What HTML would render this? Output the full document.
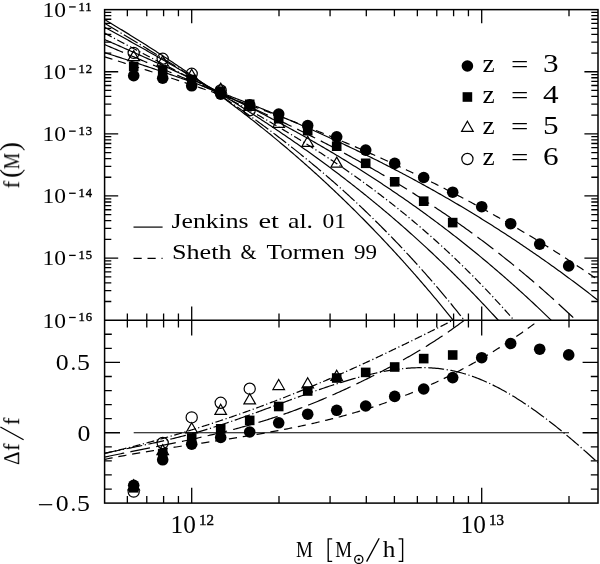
<!DOCTYPE html>
<html><head><meta charset="utf-8"><style>
html,body{margin:0;padding:0;background:#fff;}
svg{display:block;}
text{will-change:transform;}
</style></head><body>
<svg width="600" height="564" viewBox="0 0 600 564">
<rect width="600" height="564" fill="#fff"/>
<defs>
<clipPath id="ct"><rect x="104.6" y="9.63" width="493.40" height="310.57"/></clipPath>
<clipPath id="cb"><rect x="104.6" y="320.2" width="493.40" height="182.90"/></clipPath>
</defs>
<g clip-path="url(#ct)" fill="none" stroke="#000" stroke-width="1.2">
<path d="M104.60 19.59 L105.82 20.31 L107.04 21.04 L108.27 21.77 L109.49 22.50 L110.71 23.23 L111.93 23.97 L113.15 24.70 L114.38 25.44 L115.60 26.18 L116.82 26.91 L118.04 27.65 L119.26 28.40 L120.49 29.14 L121.71 29.88 L122.93 30.63 L124.15 31.38 L125.38 32.13 L126.60 32.88 L127.82 33.63 L129.04 34.38 L130.26 35.14 L131.49 35.89 L132.71 36.65 L133.93 37.41 L135.15 38.17 L136.37 38.94 L137.60 39.70 L138.82 40.47 L140.04 41.23 L141.26 42.00 L142.48 42.77 L143.71 43.55 L144.93 44.32 L146.15 45.10 L147.37 45.87 L148.59 46.65 L149.82 47.43 L151.04 48.22 L152.26 49.00 L153.48 49.79 L154.71 50.57 L155.93 51.36 L157.15 52.15 L158.37 52.95 L159.59 53.74 L160.82 54.54 L162.04 55.34 L163.26 56.14 L164.48 56.94 L165.70 57.74 L166.93 58.55 L168.15 59.36 L169.37 60.17 L170.59 60.98 L171.81 61.79 L173.04 62.60 L174.26 63.42 L175.48 64.24 L176.70 65.06 L177.92 65.88 L179.15 66.71 L180.37 67.53 L181.59 68.36 L182.81 69.19 L184.03 70.03 L185.26 70.86 L186.48 71.70 L187.70 72.54 L188.92 73.38 L190.15 74.22 L191.37 75.06 L192.59 75.91 L193.81 76.76 L195.03 77.61 L196.26 78.46 L197.48 79.32 L198.70 80.17 L199.92 81.03 L201.14 81.89 L202.37 82.76 L203.59 83.62 L204.81 84.49 L206.03 85.36 L207.25 86.23 L208.48 87.11 L209.70 87.98 L210.92 88.86 L212.14 89.74 L213.36 90.63 L214.59 91.51 L215.81 92.40 L217.03 93.29 L218.25 94.18 L219.47 95.07 L220.70 95.97 L221.92 96.87 L223.14 97.77 L224.36 98.67 L225.59 99.58 L226.81 100.49 L228.03 101.40 L229.25 102.31 L230.47 103.23 L231.70 104.15 L232.92 105.07 L234.14 105.99 L235.36 106.91 L236.58 107.84 L237.81 108.77 L239.03 109.70 L240.25 110.64 L241.47 111.57 L242.69 112.51 L243.92 113.46 L245.14 114.40 L246.36 115.35 L247.58 116.30 L248.80 117.25 L250.03 118.20 L251.25 119.16 L252.47 120.12 L253.69 121.08 L254.92 122.05 L256.14 123.02 L257.36 123.99 L258.58 124.96 L259.80 125.93 L261.03 126.91 L262.25 127.89 L263.47 128.88 L264.69 129.86 L265.91 130.85 L267.14 131.84 L268.36 132.84 L269.58 133.83 L270.80 134.83 L272.02 135.83 L273.25 136.84 L274.47 137.85 L275.69 138.86 L276.91 139.87 L278.13 140.89 L279.36 141.90 L280.58 142.93 L281.80 143.95 L283.02 144.98 L284.24 146.01 L285.47 147.04 L286.69 148.08 L287.91 149.11 L289.13 150.16 L290.36 151.20 L291.58 152.25 L292.80 153.30 L294.02 154.35 L295.24 155.41 L296.47 156.47 L297.69 157.53 L298.91 158.59 L300.13 159.66 L301.35 160.73 L302.58 161.80 L303.80 162.88 L305.02 163.96 L306.24 165.04 L307.46 166.13 L308.69 167.22 L309.91 168.31 L311.13 169.40 L312.35 170.50 L313.57 171.60 L314.80 172.71 L316.02 173.81 L317.24 174.92 L318.46 176.04 L319.68 177.15 L320.91 178.27 L322.13 179.40 L323.35 180.52 L324.57 181.65 L325.80 182.78 L327.02 183.92 L328.24 185.06 L329.46 186.20 L330.68 187.34 L331.91 188.49 L333.13 189.64 L334.35 190.80 L335.57 191.96 L336.79 193.12 L338.02 194.28 L339.24 195.45 L340.46 196.62 L341.68 197.80 L342.90 198.97 L344.13 200.15 L345.35 201.34 L346.57 202.53 L347.79 203.72 L349.01 204.91 L350.24 206.11 L351.46 207.31 L352.68 208.52 L353.90 209.72 L355.13 210.94 L356.35 212.15 L357.57 213.37 L358.79 214.59 L360.01 215.82 L361.24 217.05 L362.46 218.28 L363.68 219.51 L364.90 220.75 L366.12 222.00 L367.35 223.24 L368.57 224.49 L369.79 225.75 L371.01 227.00 L372.23 228.26 L373.46 229.53 L374.68 230.80 L375.90 232.07 L377.12 233.34 L378.34 234.62 L379.57 235.90 L380.79 237.19 L382.01 238.48 L383.23 239.77 L384.45 241.07 L385.68 242.37 L386.90 243.67 L388.12 244.98 L389.34 246.29 L390.57 247.61 L391.79 248.93 L393.01 250.25 L394.23 251.58 L395.45 252.91 L396.68 254.24 L397.90 255.58 L399.12 256.92 L400.34 258.27 L401.56 259.62 L402.79 260.97 L404.01 262.33 L405.23 263.69 L406.45 265.05 L407.67 266.42 L408.90 267.79 L410.12 269.17 L411.34 270.55 L412.56 271.94 L413.78 273.32 L415.01 274.72 L416.23 276.11 L417.45 277.51 L418.67 278.92 L419.89 280.32 L421.12 281.74 L422.34 283.15 L423.56 284.57 L424.78 286.00 L426.01 287.42 L427.23 288.86 L428.45 290.29 L429.67 291.73 L430.89 293.18 L432.12 294.62 L433.34 296.08 L434.56 297.53 L435.78 298.99 L437.00 300.46 L438.23 301.93 L439.45 303.40 L440.67 304.88 L441.89 306.36 L443.11 307.84 L444.34 309.33 L445.56 310.83 L446.78 312.33 L448.00 313.83 L449.22 315.33 L450.45 316.84 L451.67 318.36 L452.89 319.88 L454.11 321.40 L455.34 322.93 L456.56 324.46 L457.78 326.00 L459.00 327.54 L460.22 329.08 L461.45 330.63 L462.67 332.19 L463.89 333.74 L465.11 335.31 L466.33 336.87 L467.56 338.44 L468.78 340.02 L470.00 341.60"/>
<path d="M104.60 23.26 L105.86 24.00 L107.11 24.75 L108.37 25.50 L109.62 26.25 L110.88 26.99 L112.13 27.74 L113.39 28.49 L114.64 29.24 L115.90 29.99 L117.16 30.73 L118.41 31.48 L119.67 32.23 L120.92 32.98 L122.18 33.73 L123.43 34.49 L124.69 35.24 L125.94 35.99 L127.20 36.74 L128.45 37.49 L129.71 38.25 L130.97 39.00 L132.22 39.76 L133.48 40.51 L134.73 41.27 L135.99 42.03 L137.24 42.78 L138.50 43.54 L139.75 44.30 L141.01 45.06 L142.27 45.82 L143.52 46.58 L144.78 47.34 L146.03 48.10 L147.29 48.87 L148.54 49.63 L149.80 50.40 L151.05 51.16 L152.31 51.93 L153.57 52.70 L154.82 53.47 L156.08 54.24 L157.33 55.01 L158.59 55.78 L159.84 56.55 L161.10 57.32 L162.35 58.10 L163.61 58.87 L164.86 59.65 L166.12 60.43 L167.38 61.21 L168.63 61.99 L169.89 62.77 L171.14 63.55 L172.40 64.34 L173.65 65.12 L174.91 65.91 L176.16 66.70 L177.42 67.48 L178.68 68.27 L179.93 69.07 L181.19 69.86 L182.44 70.65 L183.70 71.45 L184.95 72.25 L186.21 73.04 L187.46 73.84 L188.72 74.65 L189.98 75.45 L191.23 76.25 L192.49 77.06 L193.74 77.87 L195.00 78.67 L196.25 79.48 L197.51 80.30 L198.76 81.11 L200.02 81.93 L201.27 82.74 L202.53 83.56 L203.79 84.38 L205.04 85.20 L206.30 86.03 L207.55 86.85 L208.81 87.68 L210.06 88.51 L211.32 89.34 L212.57 90.17 L213.83 91.01 L215.09 91.84 L216.34 92.68 L217.60 93.52 L218.85 94.36 L220.11 95.21 L221.36 96.05 L222.62 96.90 L223.87 97.75 L225.13 98.60 L226.39 99.46 L227.64 100.32 L228.90 101.17 L230.15 102.03 L231.41 102.90 L232.66 103.76 L233.92 104.63 L235.17 105.50 L236.43 106.37 L237.68 107.24 L238.94 108.12 L240.20 108.99 L241.45 109.87 L242.71 110.76 L243.96 111.64 L245.22 112.53 L246.47 113.42 L247.73 114.31 L248.98 115.20 L250.24 116.10 L251.50 117.00 L252.75 117.90 L254.01 118.80 L255.26 119.71 L256.52 120.62 L257.77 121.53 L259.03 122.44 L260.28 123.36 L261.54 124.28 L262.80 125.20 L264.05 126.12 L265.31 127.05 L266.56 127.98 L267.82 128.91 L269.07 129.85 L270.33 130.79 L271.58 131.73 L272.84 132.67 L274.09 133.62 L275.35 134.56 L276.61 135.52 L277.86 136.47 L279.12 137.43 L280.37 138.39 L281.63 139.35 L282.88 140.32 L284.14 141.28 L285.39 142.26 L286.65 143.23 L287.91 144.21 L289.16 145.19 L290.42 146.17 L291.67 147.16 L292.93 148.15 L294.18 149.14 L295.44 150.14 L296.69 151.14 L297.95 152.14 L299.21 153.14 L300.46 154.15 L301.72 155.16 L302.97 156.18 L304.23 157.20 L305.48 158.22 L306.74 159.24 L307.99 160.27 L309.25 161.30 L310.51 162.34 L311.76 163.38 L313.02 164.42 L314.27 165.46 L315.53 166.51 L316.78 167.56 L318.04 168.62 L319.29 169.68 L320.55 170.74 L321.80 171.80 L323.06 172.87 L324.32 173.95 L325.57 175.02 L326.83 176.10 L328.08 177.18 L329.34 178.27 L330.59 179.36 L331.85 180.46 L333.10 181.55 L334.36 182.66 L335.62 183.76 L336.87 184.87 L338.13 185.98 L339.38 187.10 L340.64 188.22 L341.89 189.35 L343.15 190.47 L344.40 191.61 L345.66 192.74 L346.92 193.88 L348.17 195.02 L349.43 196.17 L350.68 197.32 L351.94 198.48 L353.19 199.64 L354.45 200.80 L355.70 201.97 L356.96 203.14 L358.21 204.32 L359.47 205.50 L360.73 206.68 L361.98 207.87 L363.24 209.06 L364.49 210.26 L365.75 211.46 L367.00 212.66 L368.26 213.87 L369.51 215.08 L370.77 216.30 L372.03 217.52 L373.28 218.75 L374.54 219.98 L375.79 221.21 L377.05 222.45 L378.30 223.70 L379.56 224.95 L380.81 226.20 L382.07 227.45 L383.33 228.72 L384.58 229.98 L385.84 231.25 L387.09 232.53 L388.35 233.80 L389.60 235.09 L390.86 236.38 L392.11 237.67 L393.37 238.97 L394.62 240.27 L395.88 241.58 L397.14 242.89 L398.39 244.20 L399.65 245.52 L400.90 246.85 L402.16 248.18 L403.41 249.51 L404.67 250.85 L405.92 252.20 L407.18 253.55 L408.44 254.90 L409.69 256.26 L410.95 257.63 L412.20 258.99 L413.46 260.37 L414.71 261.75 L415.97 263.13 L417.22 264.52 L418.48 265.91 L419.74 267.31 L420.99 268.72 L422.25 270.12 L423.50 271.54 L424.76 272.96 L426.01 274.38 L427.27 275.81 L428.52 277.24 L429.78 278.68 L431.03 280.13 L432.29 281.58 L433.55 283.03 L434.80 284.49 L436.06 285.96 L437.31 287.43 L438.57 288.91 L439.82 290.39 L441.08 291.88 L442.33 293.37 L443.59 294.87 L444.85 296.37 L446.10 297.88 L447.36 299.39 L448.61 300.91 L449.87 302.43 L451.12 303.96 L452.38 305.50 L453.63 307.04 L454.89 308.59 L456.15 310.14 L457.40 311.70 L458.66 313.26 L459.91 314.83 L461.17 316.41 L462.42 317.99 L463.68 319.57 L464.93 321.17 L466.19 322.76 L467.44 324.37 L468.70 325.98 L469.96 327.59 L471.21 329.21 L472.47 330.84 L473.72 332.47 L474.98 334.11 L476.23 335.76 L477.49 337.41 L478.74 339.06 L480.00 340.72" stroke-dasharray="16 2.6 1.2 2.6"/>
<path d="M104.60 27.16 L105.97 27.92 L107.35 28.68 L108.72 29.44 L110.09 30.19 L111.46 30.95 L112.84 31.71 L114.21 32.47 L115.58 33.23 L116.95 33.99 L118.33 34.75 L119.70 35.52 L121.07 36.28 L122.44 37.04 L123.82 37.80 L125.19 38.57 L126.56 39.33 L127.93 40.10 L129.31 40.86 L130.68 41.63 L132.05 42.40 L133.42 43.16 L134.80 43.93 L136.17 44.70 L137.54 45.47 L138.91 46.24 L140.29 47.01 L141.66 47.78 L143.03 48.55 L144.40 49.33 L145.78 50.10 L147.15 50.87 L148.52 51.65 L149.89 52.43 L151.27 53.20 L152.64 53.98 L154.01 54.76 L155.39 55.54 L156.76 56.32 L158.13 57.10 L159.50 57.88 L160.88 58.67 L162.25 59.45 L163.62 60.24 L164.99 61.02 L166.37 61.81 L167.74 62.60 L169.11 63.39 L170.48 64.18 L171.86 64.97 L173.23 65.76 L174.60 66.55 L175.97 67.35 L177.35 68.15 L178.72 68.94 L180.09 69.74 L181.46 70.54 L182.84 71.34 L184.21 72.14 L185.58 72.95 L186.95 73.75 L188.33 74.56 L189.70 75.36 L191.07 76.17 L192.44 76.98 L193.82 77.79 L195.19 78.60 L196.56 79.42 L197.94 80.23 L199.31 81.05 L200.68 81.87 L202.05 82.69 L203.43 83.51 L204.80 84.33 L206.17 85.15 L207.54 85.98 L208.92 86.81 L210.29 87.63 L211.66 88.46 L213.03 89.29 L214.41 90.13 L215.78 90.96 L217.15 91.80 L218.52 92.64 L219.90 93.48 L221.27 94.32 L222.64 95.16 L224.01 96.00 L225.39 96.85 L226.76 97.70 L228.13 98.55 L229.50 99.40 L230.88 100.25 L232.25 101.11 L233.62 101.96 L234.99 102.82 L236.37 103.68 L237.74 104.54 L239.11 105.41 L240.48 106.27 L241.86 107.14 L243.23 108.01 L244.60 108.88 L245.98 109.76 L247.35 110.63 L248.72 111.51 L250.09 112.39 L251.47 113.27 L252.84 114.15 L254.21 115.04 L255.58 115.93 L256.96 116.82 L258.33 117.71 L259.70 118.60 L261.07 119.50 L262.45 120.40 L263.82 121.30 L265.19 122.20 L266.56 123.10 L267.94 124.01 L269.31 124.92 L270.68 125.83 L272.05 126.75 L273.43 127.66 L274.80 128.58 L276.17 129.50 L277.54 130.42 L278.92 131.35 L280.29 132.28 L281.66 133.21 L283.03 134.14 L284.41 135.07 L285.78 136.01 L287.15 136.95 L288.53 137.89 L289.90 138.83 L291.27 139.78 L292.64 140.73 L294.02 141.68 L295.39 142.64 L296.76 143.59 L298.13 144.55 L299.51 145.51 L300.88 146.48 L302.25 147.45 L303.62 148.42 L305.00 149.39 L306.37 150.36 L307.74 151.34 L309.11 152.32 L310.49 153.31 L311.86 154.29 L313.23 155.28 L314.60 156.27 L315.98 157.26 L317.35 158.26 L318.72 159.26 L320.09 160.26 L321.47 161.27 L322.84 162.28 L324.21 163.29 L325.58 164.30 L326.96 165.32 L328.33 166.34 L329.70 167.36 L331.07 168.39 L332.45 169.41 L333.82 170.45 L335.19 171.48 L336.57 172.52 L337.94 173.56 L339.31 174.60 L340.68 175.65 L342.06 176.70 L343.43 177.75 L344.80 178.81 L346.17 179.87 L347.55 180.93 L348.92 181.99 L350.29 183.06 L351.66 184.13 L353.04 185.21 L354.41 186.29 L355.78 187.37 L357.15 188.45 L358.53 189.54 L359.90 190.63 L361.27 191.72 L362.64 192.82 L364.02 193.92 L365.39 195.03 L366.76 196.13 L368.13 197.24 L369.51 198.36 L370.88 199.48 L372.25 200.60 L373.62 201.72 L375.00 202.85 L376.37 203.98 L377.74 205.12 L379.12 206.26 L380.49 207.40 L381.86 208.54 L383.23 209.69 L384.61 210.84 L385.98 212.00 L387.35 213.16 L388.72 214.32 L390.10 215.49 L391.47 216.66 L392.84 217.84 L394.21 219.01 L395.59 220.20 L396.96 221.38 L398.33 222.57 L399.70 223.76 L401.08 224.96 L402.45 226.16 L403.82 227.37 L405.19 228.57 L406.57 229.78 L407.94 231.00 L409.31 232.22 L410.68 233.44 L412.06 234.67 L413.43 235.90 L414.80 237.14 L416.17 238.38 L417.55 239.62 L418.92 240.87 L420.29 242.12 L421.66 243.37 L423.04 244.63 L424.41 245.89 L425.78 247.16 L427.16 248.43 L428.53 249.71 L429.90 250.99 L431.27 252.27 L432.65 253.56 L434.02 254.85 L435.39 256.14 L436.76 257.44 L438.14 258.75 L439.51 260.06 L440.88 261.37 L442.25 262.69 L443.63 264.01 L445.00 265.33 L446.37 266.66 L447.74 268.00 L449.12 269.33 L450.49 270.68 L451.86 272.02 L453.23 273.38 L454.61 274.73 L455.98 276.09 L457.35 277.46 L458.72 278.82 L460.10 280.20 L461.47 281.58 L462.84 282.96 L464.21 284.35 L465.59 285.74 L466.96 287.13 L468.33 288.53 L469.71 289.94 L471.08 291.35 L472.45 292.76 L473.82 294.18 L475.20 295.60 L476.57 297.03 L477.94 298.46 L479.31 299.90 L480.69 301.34 L482.06 302.79 L483.43 304.24 L484.80 305.70 L486.18 307.16 L487.55 308.62 L488.92 310.09 L490.29 311.57 L491.67 313.05 L493.04 314.53 L494.41 316.02 L495.78 317.52 L497.16 319.02 L498.53 320.52 L499.90 322.03 L501.27 323.55 L502.65 325.06 L504.02 326.59 L505.39 328.12 L506.76 329.65 L508.14 331.19 L509.51 332.74 L510.88 334.28 L512.25 335.84 L513.63 337.40 L515.00 338.96"/>
<path d="M104.60 33.08 L106.02 33.84 L107.45 34.61 L108.87 35.38 L110.29 36.14 L111.71 36.90 L113.14 37.67 L114.56 38.43 L115.98 39.19 L117.40 39.95 L118.83 40.71 L120.25 41.46 L121.67 42.22 L123.10 42.98 L124.52 43.73 L125.94 44.49 L127.36 45.24 L128.79 45.99 L130.21 46.74 L131.63 47.50 L133.05 48.25 L134.48 49.00 L135.90 49.75 L137.32 50.50 L138.75 51.24 L140.17 51.99 L141.59 52.74 L143.01 53.49 L144.44 54.23 L145.86 54.98 L147.28 55.72 L148.71 56.47 L150.13 57.22 L151.55 57.96 L152.97 58.71 L154.40 59.45 L155.82 60.19 L157.24 60.94 L158.66 61.68 L160.09 62.43 L161.51 63.17 L162.93 63.91 L164.36 64.66 L165.78 65.40 L167.20 66.15 L168.62 66.89 L170.05 67.63 L171.47 68.38 L172.89 69.12 L174.31 69.87 L175.74 70.61 L177.16 71.36 L178.58 72.10 L180.01 72.85 L181.43 73.60 L182.85 74.34 L184.27 75.09 L185.70 75.84 L187.12 76.58 L188.54 77.33 L189.96 78.08 L191.39 78.83 L192.81 79.58 L194.23 80.33 L195.66 81.08 L197.08 81.84 L198.50 82.59 L199.92 83.34 L201.35 84.10 L202.77 84.85 L204.19 85.61 L205.61 86.36 L207.04 87.12 L208.46 87.88 L209.88 88.64 L211.31 89.40 L212.73 90.16 L214.15 90.92 L215.57 91.68 L217.00 92.45 L218.42 93.21 L219.84 93.98 L221.26 94.75 L222.69 95.52 L224.11 96.29 L225.53 97.06 L226.96 97.83 L228.38 98.60 L229.80 99.38 L231.22 100.16 L232.65 100.93 L234.07 101.71 L235.49 102.49 L236.92 103.28 L238.34 104.06 L239.76 104.85 L241.18 105.63 L242.61 106.42 L244.03 107.21 L245.45 108.00 L246.87 108.80 L248.30 109.59 L249.72 110.39 L251.14 111.19 L252.57 111.99 L253.99 112.79 L255.41 113.60 L256.83 114.40 L258.26 115.21 L259.68 116.02 L261.10 116.83 L262.52 117.65 L263.95 118.46 L265.37 119.28 L266.79 120.10 L268.22 120.92 L269.64 121.75 L271.06 122.57 L272.48 123.40 L273.91 124.23 L275.33 125.07 L276.75 125.90 L278.17 126.74 L279.60 127.58 L281.02 128.42 L282.44 129.27 L283.87 130.12 L285.29 130.97 L286.71 131.82 L288.13 132.67 L289.56 133.53 L290.98 134.39 L292.40 135.25 L293.82 136.12 L295.25 136.99 L296.67 137.86 L298.09 138.73 L299.52 139.61 L300.94 140.49 L302.36 141.37 L303.78 142.25 L305.21 143.14 L306.63 144.03 L308.05 144.93 L309.47 145.82 L310.90 146.72 L312.32 147.62 L313.74 148.53 L315.17 149.44 L316.59 150.35 L318.01 151.26 L319.43 152.18 L320.86 153.10 L322.28 154.03 L323.70 154.96 L325.13 155.89 L326.55 156.82 L327.97 157.76 L329.39 158.70 L330.82 159.64 L332.24 160.59 L333.66 161.54 L335.08 162.50 L336.51 163.46 L337.93 164.42 L339.35 165.38 L340.78 166.35 L342.20 167.33 L343.62 168.30 L345.04 169.28 L346.47 170.27 L347.89 171.25 L349.31 172.24 L350.73 173.24 L352.16 174.24 L353.58 175.24 L355.00 176.25 L356.43 177.26 L357.85 178.27 L359.27 179.29 L360.69 180.31 L362.12 181.34 L363.54 182.37 L364.96 183.41 L366.38 184.45 L367.81 185.49 L369.23 186.54 L370.65 187.59 L372.08 188.64 L373.50 189.70 L374.92 190.77 L376.34 191.84 L377.77 192.91 L379.19 193.99 L380.61 195.07 L382.03 196.15 L383.46 197.24 L384.88 198.34 L386.30 199.44 L387.73 200.54 L389.15 201.65 L390.57 202.77 L391.99 203.89 L393.42 205.01 L394.84 206.14 L396.26 207.27 L397.68 208.40 L399.11 209.55 L400.53 210.69 L401.95 211.85 L403.38 213.00 L404.80 214.16 L406.22 215.33 L407.64 216.50 L409.07 217.68 L410.49 218.86 L411.91 220.04 L413.34 221.24 L414.76 222.43 L416.18 223.63 L417.60 224.84 L419.03 226.05 L420.45 227.27 L421.87 228.49 L423.29 229.72 L424.72 230.95 L426.14 232.19 L427.56 233.44 L428.99 234.69 L430.41 235.94 L431.83 237.20 L433.25 238.47 L434.68 239.74 L436.10 241.02 L437.52 242.30 L438.94 243.59 L440.37 244.88 L441.79 246.18 L443.21 247.48 L444.64 248.80 L446.06 250.11 L447.48 251.43 L448.90 252.76 L450.33 254.10 L451.75 255.44 L453.17 256.78 L454.59 258.13 L456.02 259.49 L457.44 260.86 L458.86 262.23 L460.29 263.60 L461.71 264.98 L463.13 266.37 L464.55 267.76 L465.98 269.17 L467.40 270.57 L468.82 271.98 L470.24 273.40 L471.67 274.83 L473.09 276.26 L474.51 277.70 L475.94 279.14 L477.36 280.59 L478.78 282.05 L480.20 283.51 L481.63 284.98 L483.05 286.46 L484.47 287.94 L485.89 289.43 L487.32 290.93 L488.74 292.43 L490.16 293.94 L491.59 295.46 L493.01 296.98 L494.43 298.51 L495.85 300.05 L497.28 301.59 L498.70 303.14 L500.12 304.70 L501.55 306.26 L502.97 307.83 L504.39 309.41 L505.81 310.99 L507.24 312.59 L508.66 314.18 L510.08 315.79 L511.50 317.40 L512.93 319.02 L514.35 320.65 L515.77 322.28 L517.20 323.93 L518.62 325.57 L520.04 327.23 L521.46 328.89 L522.89 330.56 L524.31 332.24 L525.73 333.93 L527.15 335.62 L528.58 337.32 L530.00 339.03" stroke-dasharray="8 2.6 1.2 2.6"/>
<path d="M104.60 39.51 L106.16 40.19 L107.71 40.88 L109.27 41.56 L110.83 42.25 L112.38 42.93 L113.94 43.62 L115.50 44.30 L117.05 44.99 L118.61 45.67 L120.17 46.36 L121.72 47.05 L123.28 47.74 L124.83 48.43 L126.39 49.12 L127.95 49.81 L129.50 50.50 L131.06 51.19 L132.62 51.88 L134.17 52.57 L135.73 53.27 L137.29 53.96 L138.84 54.66 L140.40 55.35 L141.96 56.05 L143.51 56.75 L145.07 57.45 L146.63 58.14 L148.18 58.84 L149.74 59.55 L151.30 60.25 L152.85 60.95 L154.41 61.65 L155.97 62.36 L157.52 63.06 L159.08 63.77 L160.63 64.48 L162.19 65.19 L163.75 65.90 L165.30 66.61 L166.86 67.32 L168.42 68.03 L169.97 68.74 L171.53 69.46 L173.09 70.18 L174.64 70.89 L176.20 71.61 L177.76 72.33 L179.31 73.05 L180.87 73.77 L182.43 74.50 L183.98 75.22 L185.54 75.95 L187.10 76.67 L188.65 77.40 L190.21 78.13 L191.77 78.86 L193.32 79.60 L194.88 80.33 L196.43 81.07 L197.99 81.80 L199.55 82.54 L201.10 83.28 L202.66 84.02 L204.22 84.76 L205.77 85.51 L207.33 86.25 L208.89 87.00 L210.44 87.75 L212.00 88.50 L213.56 89.25 L215.11 90.00 L216.67 90.76 L218.23 91.52 L219.78 92.27 L221.34 93.03 L222.90 93.80 L224.45 94.56 L226.01 95.32 L227.57 96.09 L229.12 96.86 L230.68 97.63 L232.23 98.40 L233.79 99.18 L235.35 99.95 L236.90 100.73 L238.46 101.51 L240.02 102.29 L241.57 103.08 L243.13 103.86 L244.69 104.65 L246.24 105.44 L247.80 106.23 L249.36 107.02 L250.91 107.82 L252.47 108.61 L254.03 109.41 L255.58 110.22 L257.14 111.02 L258.70 111.82 L260.25 112.63 L261.81 113.44 L263.37 114.25 L264.92 115.07 L266.48 115.88 L268.03 116.70 L269.59 117.52 L271.15 118.35 L272.70 119.17 L274.26 120.00 L275.82 120.83 L277.37 121.66 L278.93 122.50 L280.49 123.33 L282.04 124.17 L283.60 125.01 L285.16 125.86 L286.71 126.70 L288.27 127.55 L289.83 128.41 L291.38 129.26 L292.94 130.12 L294.50 130.97 L296.05 131.84 L297.61 132.70 L299.17 133.57 L300.72 134.43 L302.28 135.31 L303.83 136.18 L305.39 137.06 L306.95 137.94 L308.50 138.82 L310.06 139.70 L311.62 140.59 L313.17 141.48 L314.73 142.37 L316.29 143.27 L317.84 144.17 L319.40 145.07 L320.96 145.97 L322.51 146.88 L324.07 147.79 L325.63 148.70 L327.18 149.62 L328.74 150.54 L330.30 151.46 L331.85 152.38 L333.41 153.31 L334.97 154.24 L336.52 155.17 L338.08 156.11 L339.63 157.05 L341.19 157.99 L342.75 158.93 L344.30 159.88 L345.86 160.83 L347.42 161.79 L348.97 162.74 L350.53 163.71 L352.09 164.67 L353.64 165.64 L355.20 166.61 L356.76 167.58 L358.31 168.56 L359.87 169.54 L361.43 170.52 L362.98 171.51 L364.54 172.49 L366.10 173.49 L367.65 174.48 L369.21 175.48 L370.77 176.49 L372.32 177.49 L373.88 178.50 L375.43 179.52 L376.99 180.53 L378.55 181.55 L380.10 182.58 L381.66 183.60 L383.22 184.63 L384.77 185.67 L386.33 186.70 L387.89 187.75 L389.44 188.79 L391.00 189.84 L392.56 190.89 L394.11 191.95 L395.67 193.01 L397.23 194.07 L398.78 195.13 L400.34 196.20 L401.90 197.28 L403.45 198.36 L405.01 199.44 L406.57 200.52 L408.12 201.61 L409.68 202.70 L411.23 203.80 L412.79 204.90 L414.35 206.01 L415.90 207.11 L417.46 208.23 L419.02 209.34 L420.57 210.46 L422.13 211.59 L423.69 212.71 L425.24 213.84 L426.80 214.98 L428.36 216.12 L429.91 217.26 L431.47 218.41 L433.03 219.56 L434.58 220.72 L436.14 221.88 L437.70 223.04 L439.25 224.21 L440.81 225.38 L442.37 226.56 L443.92 227.74 L445.48 228.93 L447.03 230.12 L448.59 231.31 L450.15 232.51 L451.70 233.71 L453.26 234.91 L454.82 236.13 L456.37 237.34 L457.93 238.56 L459.49 239.78 L461.04 241.01 L462.60 242.24 L464.16 243.48 L465.71 244.72 L467.27 245.97 L468.83 247.22 L470.38 248.47 L471.94 249.73 L473.50 250.99 L475.05 252.26 L476.61 253.54 L478.17 254.81 L479.72 256.09 L481.28 257.38 L482.83 258.67 L484.39 259.97 L485.95 261.27 L487.50 262.57 L489.06 263.88 L490.62 265.20 L492.17 266.52 L493.73 267.84 L495.29 269.17 L496.84 270.50 L498.40 271.84 L499.96 273.19 L501.51 274.53 L503.07 275.89 L504.63 277.24 L506.18 278.61 L507.74 279.97 L509.30 281.35 L510.85 282.72 L512.41 284.11 L513.97 285.49 L515.52 286.89 L517.08 288.28 L518.63 289.69 L520.19 291.09 L521.75 292.51 L523.30 293.92 L524.86 295.35 L526.42 296.77 L527.97 298.21 L529.53 299.64 L531.09 301.09 L532.64 302.54 L534.20 303.99 L535.76 305.45 L537.31 306.91 L538.87 308.38 L540.43 309.86 L541.98 311.34 L543.54 312.82 L545.10 314.31 L546.65 315.81 L548.21 317.31 L549.77 318.81 L551.32 320.33 L552.88 321.84 L554.43 323.37 L555.99 324.90 L557.55 326.43 L559.10 327.97 L560.66 329.51 L562.22 331.06 L563.77 332.62 L565.33 334.18 L566.89 335.75 L568.44 337.32 L570.00 338.90"/>
<path d="M104.60 44.58 L106.22 45.27 L107.85 45.96 L109.47 46.64 L111.09 47.33 L112.72 48.02 L114.34 48.71 L115.96 49.39 L117.59 50.08 L119.21 50.76 L120.83 51.45 L122.46 52.14 L124.08 52.82 L125.70 53.50 L127.33 54.19 L128.95 54.87 L130.57 55.56 L132.20 56.24 L133.82 56.92 L135.44 57.61 L137.07 58.29 L138.69 58.97 L140.32 59.66 L141.94 60.34 L143.56 61.02 L145.19 61.70 L146.81 62.39 L148.43 63.07 L150.06 63.75 L151.68 64.44 L153.30 65.12 L154.93 65.80 L156.55 66.49 L158.17 67.17 L159.80 67.85 L161.42 68.54 L163.04 69.22 L164.67 69.91 L166.29 70.59 L167.91 71.28 L169.54 71.96 L171.16 72.65 L172.78 73.34 L174.41 74.02 L176.03 74.71 L177.65 75.40 L179.28 76.09 L180.90 76.78 L182.52 77.47 L184.15 78.16 L185.77 78.85 L187.39 79.54 L189.02 80.23 L190.64 80.93 L192.26 81.62 L193.89 82.31 L195.51 83.01 L197.13 83.71 L198.76 84.40 L200.38 85.10 L202.00 85.80 L203.63 86.50 L205.25 87.20 L206.87 87.90 L208.50 88.60 L210.12 89.30 L211.75 90.01 L213.37 90.71 L214.99 91.42 L216.62 92.13 L218.24 92.84 L219.86 93.55 L221.49 94.26 L223.11 94.97 L224.73 95.68 L226.36 96.40 L227.98 97.11 L229.60 97.83 L231.23 98.55 L232.85 99.27 L234.47 99.99 L236.10 100.71 L237.72 101.43 L239.34 102.16 L240.97 102.88 L242.59 103.61 L244.21 104.34 L245.84 105.07 L247.46 105.80 L249.08 106.54 L250.71 107.27 L252.33 108.01 L253.95 108.75 L255.58 109.49 L257.20 110.23 L258.82 110.98 L260.45 111.72 L262.07 112.47 L263.69 113.22 L265.32 113.97 L266.94 114.72 L268.56 115.48 L270.19 116.24 L271.81 116.99 L273.43 117.75 L275.06 118.52 L276.68 119.28 L278.31 120.05 L279.93 120.82 L281.55 121.59 L283.18 122.36 L284.80 123.14 L286.42 123.91 L288.05 124.69 L289.67 125.47 L291.29 126.26 L292.92 127.04 L294.54 127.83 L296.16 128.62 L297.79 129.41 L299.41 130.21 L301.03 131.01 L302.66 131.81 L304.28 132.61 L305.90 133.41 L307.53 134.22 L309.15 135.03 L310.77 135.84 L312.40 136.65 L314.02 137.47 L315.64 138.29 L317.27 139.11 L318.89 139.94 L320.51 140.77 L322.14 141.60 L323.76 142.43 L325.38 143.26 L327.01 144.10 L328.63 144.94 L330.25 145.79 L331.88 146.63 L333.50 147.48 L335.12 148.34 L336.75 149.19 L338.37 150.05 L339.99 150.91 L341.62 151.78 L343.24 152.64 L344.86 153.51 L346.49 154.39 L348.11 155.26 L349.74 156.14 L351.36 157.02 L352.98 157.91 L354.61 158.80 L356.23 159.69 L357.85 160.59 L359.48 161.48 L361.10 162.39 L362.72 163.29 L364.35 164.20 L365.97 165.11 L367.59 166.03 L369.22 166.94 L370.84 167.87 L372.46 168.79 L374.09 169.72 L375.71 170.65 L377.33 171.59 L378.96 172.53 L380.58 173.47 L382.20 174.42 L383.83 175.37 L385.45 176.32 L387.07 177.28 L388.70 178.24 L390.32 179.20 L391.94 180.17 L393.57 181.14 L395.19 182.12 L396.81 183.10 L398.44 184.08 L400.06 185.07 L401.68 186.06 L403.31 187.05 L404.93 188.05 L406.55 189.06 L408.18 190.06 L409.80 191.07 L411.42 192.09 L413.05 193.11 L414.67 194.13 L416.29 195.16 L417.92 196.19 L419.54 197.22 L421.17 198.26 L422.79 199.31 L424.41 200.36 L426.04 201.41 L427.66 202.46 L429.28 203.53 L430.91 204.59 L432.53 205.66 L434.15 206.73 L435.78 207.81 L437.40 208.89 L439.02 209.98 L440.65 211.07 L442.27 212.17 L443.89 213.27 L445.52 214.37 L447.14 215.48 L448.76 216.60 L450.39 217.72 L452.01 218.84 L453.63 219.97 L455.26 221.10 L456.88 222.24 L458.50 223.38 L460.13 224.53 L461.75 225.68 L463.37 226.84 L465.00 228.00 L466.62 229.16 L468.24 230.34 L469.87 231.51 L471.49 232.69 L473.11 233.88 L474.74 235.07 L476.36 236.26 L477.98 237.47 L479.61 238.67 L481.23 239.88 L482.85 241.10 L484.48 242.32 L486.10 243.55 L487.73 244.78 L489.35 246.01 L490.97 247.26 L492.60 248.50 L494.22 249.76 L495.84 251.01 L497.47 252.28 L499.09 253.55 L500.71 254.82 L502.34 256.10 L503.96 257.38 L505.58 258.67 L507.21 259.97 L508.83 261.27 L510.45 262.58 L512.08 263.89 L513.70 265.21 L515.32 266.53 L516.95 267.86 L518.57 269.19 L520.19 270.53 L521.82 271.88 L523.44 273.23 L525.06 274.59 L526.69 275.95 L528.31 277.32 L529.93 278.69 L531.56 280.07 L533.18 281.46 L534.80 282.85 L536.43 284.25 L538.05 285.65 L539.67 287.06 L541.30 288.48 L542.92 289.90 L544.54 291.33 L546.17 292.76 L547.79 294.20 L549.41 295.65 L551.04 297.10 L552.66 298.56 L554.28 300.03 L555.91 301.50 L557.53 302.97 L559.16 304.46 L560.78 305.95 L562.40 307.44 L564.03 308.94 L565.65 310.45 L567.27 311.97 L568.90 313.49 L570.52 315.02 L572.14 316.55 L573.77 318.09 L575.39 319.64 L577.01 321.19 L578.64 322.75 L580.26 324.32 L581.88 325.89 L583.51 327.47 L585.13 329.06 L586.75 330.65 L588.38 332.25 L590.00 333.86" stroke-dasharray="20 6.3"/>
<path d="M104.60 52.58 L106.25 53.11 L107.90 53.64 L109.55 54.18 L111.20 54.71 L112.85 55.24 L114.50 55.78 L116.15 56.31 L117.80 56.85 L119.45 57.38 L121.10 57.92 L122.75 58.46 L124.40 59.00 L126.05 59.54 L127.70 60.08 L129.35 60.63 L131.00 61.17 L132.65 61.72 L134.30 62.26 L135.95 62.81 L137.60 63.36 L139.25 63.91 L140.90 64.46 L142.55 65.01 L144.20 65.56 L145.85 66.12 L147.50 66.67 L149.15 67.23 L150.80 67.79 L152.45 68.35 L154.11 68.91 L155.76 69.47 L157.41 70.03 L159.06 70.60 L160.71 71.16 L162.36 71.73 L164.01 72.29 L165.66 72.86 L167.31 73.43 L168.96 74.01 L170.61 74.58 L172.26 75.15 L173.91 75.73 L175.56 76.30 L177.21 76.88 L178.86 77.46 L180.51 78.04 L182.16 78.63 L183.81 79.21 L185.46 79.80 L187.11 80.38 L188.76 80.97 L190.41 81.56 L192.06 82.15 L193.71 82.74 L195.36 83.34 L197.01 83.93 L198.66 84.53 L200.31 85.13 L201.96 85.73 L203.61 86.33 L205.26 86.93 L206.91 87.54 L208.56 88.14 L210.21 88.75 L211.86 89.36 L213.51 89.97 L215.16 90.59 L216.81 91.20 L218.46 91.82 L220.11 92.43 L221.76 93.05 L223.41 93.67 L225.06 94.30 L226.71 94.92 L228.36 95.55 L230.01 96.18 L231.66 96.81 L233.31 97.44 L234.96 98.07 L236.61 98.71 L238.26 99.34 L239.91 99.98 L241.56 100.62 L243.21 101.26 L244.86 101.91 L246.51 102.55 L248.16 103.20 L249.81 103.85 L251.46 104.50 L253.12 105.15 L254.77 105.81 L256.42 106.47 L258.07 107.13 L259.72 107.79 L261.37 108.45 L263.02 109.11 L264.67 109.78 L266.32 110.45 L267.97 111.12 L269.62 111.79 L271.27 112.47 L272.92 113.14 L274.57 113.82 L276.22 114.50 L277.87 115.19 L279.52 115.87 L281.17 116.56 L282.82 117.25 L284.47 117.94 L286.12 118.63 L287.77 119.33 L289.42 120.02 L291.07 120.72 L292.72 121.43 L294.37 122.13 L296.02 122.84 L297.67 123.54 L299.32 124.25 L300.97 124.97 L302.62 125.68 L304.27 126.40 L305.92 127.12 L307.57 127.84 L309.22 128.56 L310.87 129.29 L312.52 130.02 L314.17 130.75 L315.82 131.48 L317.47 132.22 L319.12 132.96 L320.77 133.70 L322.42 134.44 L324.07 135.18 L325.72 135.93 L327.37 136.68 L329.02 137.43 L330.67 138.19 L332.32 138.94 L333.97 139.70 L335.62 140.46 L337.27 141.23 L338.92 141.99 L340.57 142.76 L342.22 143.54 L343.87 144.31 L345.52 145.09 L347.17 145.87 L348.82 146.65 L350.47 147.43 L352.13 148.22 L353.78 149.01 L355.43 149.80 L357.08 150.59 L358.73 151.39 L360.38 152.19 L362.03 152.99 L363.68 153.80 L365.33 154.60 L366.98 155.41 L368.63 156.23 L370.28 157.04 L371.93 157.86 L373.58 158.68 L375.23 159.51 L376.88 160.33 L378.53 161.16 L380.18 161.99 L381.83 162.83 L383.48 163.67 L385.13 164.51 L386.78 165.35 L388.43 166.19 L390.08 167.04 L391.73 167.89 L393.38 168.75 L395.03 169.61 L396.68 170.47 L398.33 171.33 L399.98 172.19 L401.63 173.06 L403.28 173.93 L404.93 174.81 L406.58 175.69 L408.23 176.57 L409.88 177.45 L411.53 178.33 L413.18 179.22 L414.83 180.12 L416.48 181.01 L418.13 181.91 L419.78 182.81 L421.43 183.71 L423.08 184.62 L424.73 185.53 L426.38 186.44 L428.03 187.36 L429.68 188.28 L431.33 189.20 L432.98 190.13 L434.63 191.06 L436.28 191.99 L437.93 192.92 L439.58 193.86 L441.23 194.80 L442.88 195.75 L444.53 196.70 L446.18 197.65 L447.83 198.60 L449.48 199.56 L451.14 200.52 L452.79 201.48 L454.44 202.45 L456.09 203.42 L457.74 204.39 L459.39 205.37 L461.04 206.35 L462.69 207.33 L464.34 208.32 L465.99 209.31 L467.64 210.30 L469.29 211.30 L470.94 212.30 L472.59 213.30 L474.24 214.31 L475.89 215.32 L477.54 216.33 L479.19 217.35 L480.84 218.37 L482.49 219.40 L484.14 220.42 L485.79 221.45 L487.44 222.49 L489.09 223.53 L490.74 224.57 L492.39 225.61 L494.04 226.66 L495.69 227.71 L497.34 228.77 L498.99 229.83 L500.64 230.89 L502.29 231.96 L503.94 233.03 L505.59 234.10 L507.24 235.18 L508.89 236.26 L510.54 237.34 L512.19 238.43 L513.84 239.52 L515.49 240.61 L517.14 241.71 L518.79 242.82 L520.44 243.92 L522.09 245.03 L523.74 246.14 L525.39 247.26 L527.04 248.38 L528.69 249.51 L530.34 250.64 L531.99 251.77 L533.64 252.91 L535.29 254.05 L536.94 255.19 L538.59 256.34 L540.24 257.49 L541.89 258.64 L543.54 259.80 L545.19 260.97 L546.84 262.13 L548.49 263.30 L550.15 264.48 L551.80 265.66 L553.45 266.84 L555.10 268.02 L556.75 269.21 L558.40 270.41 L560.05 271.61 L561.70 272.81 L563.35 274.02 L565.00 275.23 L566.65 276.44 L568.30 277.66 L569.95 278.88 L571.60 280.11 L573.25 281.34 L574.90 282.57 L576.55 283.81 L578.20 285.05 L579.85 286.30 L581.50 287.55 L583.15 288.81 L584.80 290.06 L586.45 291.33 L588.10 292.60 L589.75 293.87 L591.40 295.14 L593.05 296.42 L594.70 297.71 L596.35 299.00 L598.00 300.29"/>
<path d="M104.60 56.86 L106.25 57.37 L107.90 57.88 L109.55 58.40 L111.20 58.91 L112.85 59.43 L114.50 59.95 L116.15 60.46 L117.80 60.98 L119.45 61.50 L121.10 62.02 L122.75 62.54 L124.40 63.06 L126.05 63.58 L127.70 64.10 L129.35 64.62 L131.00 65.14 L132.65 65.67 L134.30 66.19 L135.95 66.72 L137.60 67.24 L139.25 67.77 L140.90 68.30 L142.55 68.82 L144.20 69.35 L145.85 69.88 L147.50 70.41 L149.15 70.94 L150.80 71.47 L152.45 72.00 L154.11 72.54 L155.76 73.07 L157.41 73.61 L159.06 74.14 L160.71 74.68 L162.36 75.22 L164.01 75.75 L165.66 76.29 L167.31 76.83 L168.96 77.37 L170.61 77.92 L172.26 78.46 L173.91 79.00 L175.56 79.55 L177.21 80.09 L178.86 80.64 L180.51 81.19 L182.16 81.73 L183.81 82.28 L185.46 82.83 L187.11 83.39 L188.76 83.94 L190.41 84.49 L192.06 85.05 L193.71 85.60 L195.36 86.16 L197.01 86.72 L198.66 87.28 L200.31 87.84 L201.96 88.40 L203.61 88.96 L205.26 89.52 L206.91 90.09 L208.56 90.65 L210.21 91.22 L211.86 91.79 L213.51 92.36 L215.16 92.93 L216.81 93.50 L218.46 94.07 L220.11 94.64 L221.76 95.22 L223.41 95.80 L225.06 96.37 L226.71 96.95 L228.36 97.53 L230.01 98.11 L231.66 98.70 L233.31 99.28 L234.96 99.87 L236.61 100.45 L238.26 101.04 L239.91 101.63 L241.56 102.22 L243.21 102.81 L244.86 103.41 L246.51 104.00 L248.16 104.60 L249.81 105.20 L251.46 105.80 L253.12 106.40 L254.77 107.00 L256.42 107.60 L258.07 108.21 L259.72 108.81 L261.37 109.42 L263.02 110.03 L264.67 110.64 L266.32 111.26 L267.97 111.87 L269.62 112.48 L271.27 113.10 L272.92 113.72 L274.57 114.34 L276.22 114.96 L277.87 115.59 L279.52 116.21 L281.17 116.84 L282.82 117.47 L284.47 118.10 L286.12 118.73 L287.77 119.36 L289.42 120.00 L291.07 120.63 L292.72 121.27 L294.37 121.91 L296.02 122.55 L297.67 123.19 L299.32 123.84 L300.97 124.49 L302.62 125.13 L304.27 125.78 L305.92 126.44 L307.57 127.09 L309.22 127.75 L310.87 128.40 L312.52 129.06 L314.17 129.72 L315.82 130.39 L317.47 131.05 L319.12 131.72 L320.77 132.39 L322.42 133.06 L324.07 133.73 L325.72 134.40 L327.37 135.08 L329.02 135.76 L330.67 136.43 L332.32 137.12 L333.97 137.80 L335.62 138.49 L337.27 139.17 L338.92 139.86 L340.57 140.55 L342.22 141.25 L343.87 141.94 L345.52 142.64 L347.17 143.34 L348.82 144.04 L350.47 144.74 L352.13 145.45 L353.78 146.16 L355.43 146.87 L357.08 147.58 L358.73 148.29 L360.38 149.01 L362.03 149.73 L363.68 150.45 L365.33 151.17 L366.98 151.89 L368.63 152.62 L370.28 153.35 L371.93 154.08 L373.58 154.81 L375.23 155.55 L376.88 156.29 L378.53 157.03 L380.18 157.77 L381.83 158.51 L383.48 159.26 L385.13 160.01 L386.78 160.76 L388.43 161.51 L390.08 162.27 L391.73 163.03 L393.38 163.79 L395.03 164.55 L396.68 165.31 L398.33 166.08 L399.98 166.85 L401.63 167.62 L403.28 168.40 L404.93 169.17 L406.58 169.95 L408.23 170.74 L409.88 171.52 L411.53 172.31 L413.18 173.09 L414.83 173.89 L416.48 174.68 L418.13 175.48 L419.78 176.28 L421.43 177.08 L423.08 177.88 L424.73 178.69 L426.38 179.50 L428.03 180.31 L429.68 181.12 L431.33 181.94 L432.98 182.76 L434.63 183.58 L436.28 184.40 L437.93 185.23 L439.58 186.06 L441.23 186.89 L442.88 187.73 L444.53 188.57 L446.18 189.41 L447.83 190.25 L449.48 191.09 L451.14 191.94 L452.79 192.79 L454.44 193.65 L456.09 194.50 L457.74 195.36 L459.39 196.23 L461.04 197.09 L462.69 197.96 L464.34 198.83 L465.99 199.70 L467.64 200.58 L469.29 201.46 L470.94 202.34 L472.59 203.23 L474.24 204.11 L475.89 205.01 L477.54 205.90 L479.19 206.80 L480.84 207.70 L482.49 208.60 L484.14 209.50 L485.79 210.41 L487.44 211.32 L489.09 212.24 L490.74 213.16 L492.39 214.08 L494.04 215.00 L495.69 215.93 L497.34 216.86 L498.99 217.79 L500.64 218.72 L502.29 219.66 L503.94 220.60 L505.59 221.55 L507.24 222.50 L508.89 223.45 L510.54 224.40 L512.19 225.36 L513.84 226.32 L515.49 227.29 L517.14 228.25 L518.79 229.22 L520.44 230.20 L522.09 231.17 L523.74 232.15 L525.39 233.14 L527.04 234.12 L528.69 235.11 L530.34 236.11 L531.99 237.10 L533.64 238.10 L535.29 239.11 L536.94 240.11 L538.59 241.12 L540.24 242.14 L541.89 243.15 L543.54 244.17 L545.19 245.20 L546.84 246.22 L548.49 247.25 L550.15 248.29 L551.80 249.32 L553.45 250.36 L555.10 251.41 L556.75 252.46 L558.40 253.51 L560.05 254.56 L561.70 255.62 L563.35 256.68 L565.00 257.75 L566.65 258.82 L568.30 259.89 L569.95 260.96 L571.60 262.04 L573.25 263.13 L574.90 264.21 L576.55 265.30 L578.20 266.40 L579.85 267.49 L581.50 268.60 L583.15 269.70 L584.80 270.81 L586.45 271.92 L588.10 273.04 L589.75 274.16 L591.40 275.28 L593.05 276.41 L594.70 277.54 L596.35 278.67 L598.00 279.81" stroke-dasharray="8.2 5.8"/>
</g>
<g clip-path="url(#cb)" fill="none" stroke="#000" stroke-width="1.2">
<path d="M133.7 432.75H569"/>
<path d="M104.60 459.34 L106.12 459.04 L107.65 458.74 L109.17 458.43 L110.69 458.14 L112.22 457.84 L113.74 457.55 L115.26 457.25 L116.78 456.97 L118.31 456.68 L119.83 456.39 L121.35 456.11 L122.88 455.83 L124.40 455.55 L125.92 455.27 L127.45 455.00 L128.97 454.73 L130.49 454.45 L132.02 454.19 L133.54 453.92 L135.06 453.65 L136.58 453.39 L138.11 453.12 L139.63 452.86 L141.15 452.60 L142.68 452.35 L144.20 452.09 L145.72 451.83 L147.25 451.58 L148.77 451.33 L150.29 451.08 L151.82 450.83 L153.34 450.58 L154.86 450.33 L156.38 450.09 L157.91 449.84 L159.43 449.60 L160.95 449.36 L162.48 449.11 L164.00 448.87 L165.52 448.63 L167.05 448.39 L168.57 448.16 L170.09 447.92 L171.62 447.68 L173.14 447.45 L174.66 447.21 L176.18 446.97 L177.71 446.74 L179.23 446.51 L180.75 446.27 L182.28 446.04 L183.80 445.81 L185.32 445.58 L186.85 445.35 L188.37 445.11 L189.89 444.88 L191.42 444.65 L192.94 444.42 L194.46 444.19 L195.98 443.96 L197.51 443.73 L199.03 443.50 L200.55 443.27 L202.08 443.04 L203.60 442.81 L205.12 442.58 L206.65 442.35 L208.17 442.12 L209.69 441.89 L211.22 441.66 L212.74 441.42 L214.26 441.19 L215.78 440.96 L217.31 440.73 L218.83 440.49 L220.35 440.26 L221.88 440.02 L223.40 439.79 L224.92 439.55 L226.45 439.32 L227.97 439.08 L229.49 438.84 L231.02 438.60 L232.54 438.36 L234.06 438.12 L235.58 437.88 L237.11 437.63 L238.63 437.39 L240.15 437.15 L241.68 436.90 L243.20 436.65 L244.72 436.40 L246.25 436.15 L247.77 435.90 L249.29 435.65 L250.82 435.40 L252.34 435.14 L253.86 434.88 L255.38 434.63 L256.91 434.37 L258.43 434.11 L259.95 433.84 L261.48 433.58 L263.00 433.31 L264.52 433.05 L266.05 432.78 L267.57 432.50 L269.09 432.23 L270.62 431.96 L272.14 431.68 L273.66 431.40 L275.18 431.12 L276.71 430.84 L278.23 430.55 L279.75 430.26 L281.28 429.97 L282.80 429.68 L284.32 429.39 L285.85 429.09 L287.37 428.79 L288.89 428.49 L290.42 428.19 L291.94 427.88 L293.46 427.57 L294.98 427.26 L296.51 426.95 L298.03 426.63 L299.55 426.31 L301.08 425.99 L302.60 425.67 L304.12 425.34 L305.65 425.01 L307.17 424.68 L308.69 424.34 L310.22 424.01 L311.74 423.66 L313.26 423.32 L314.78 422.97 L316.31 422.62 L317.83 422.27 L319.35 421.91 L320.88 421.55 L322.40 421.19 L323.92 420.82 L325.45 420.45 L326.97 420.08 L328.49 419.70 L330.02 419.32 L331.54 418.93 L333.06 418.55 L334.58 418.15 L336.11 417.76 L337.63 417.36 L339.15 416.96 L340.68 416.55 L342.20 416.14 L343.72 415.73 L345.25 415.31 L346.77 414.89 L348.29 414.47 L349.82 414.04 L351.34 413.60 L352.86 413.16 L354.38 412.72 L355.91 412.28 L357.43 411.83 L358.95 411.37 L360.48 410.91 L362.00 410.45 L363.52 409.98 L365.05 409.51 L366.57 409.04 L368.09 408.56 L369.62 408.07 L371.14 407.58 L372.66 407.09 L374.18 406.59 L375.71 406.09 L377.23 405.58 L378.75 405.07 L380.28 404.56 L381.80 404.03 L383.32 403.51 L384.85 402.98 L386.37 402.44 L387.89 401.90 L389.42 401.36 L390.94 400.81 L392.46 400.26 L393.98 399.70 L395.51 399.13 L397.03 398.57 L398.55 397.99 L400.08 397.41 L401.60 396.83 L403.12 396.24 L404.65 395.65 L406.17 395.05 L407.69 394.45 L409.22 393.84 L410.74 393.22 L412.26 392.60 L413.78 391.98 L415.31 391.35 L416.83 390.72 L418.35 390.08 L419.88 389.43 L421.40 388.78 L422.92 388.12 L424.45 387.46 L425.97 386.80 L427.49 386.12 L429.02 385.45 L430.54 384.76 L432.06 384.07 L433.58 383.38 L435.11 382.68 L436.63 381.97 L438.15 381.26 L439.68 380.54 L441.20 379.82 L442.72 379.09 L444.25 378.36 L445.77 377.62 L447.29 376.87 L448.82 376.12 L450.34 375.36 L451.86 374.60 L453.38 373.83 L454.91 373.06 L456.43 372.28 L457.95 371.49 L459.48 370.70 L461.00 369.90 L462.52 369.09 L464.05 368.28 L465.57 367.46 L467.09 366.64 L468.62 365.81 L470.14 364.97 L471.66 364.13 L473.18 363.28 L474.71 362.43 L476.23 361.57 L477.75 360.70 L479.28 359.82 L480.80 358.94 L482.32 358.06 L483.85 357.16 L485.37 356.26 L486.89 355.36 L488.42 354.44 L489.94 353.52 L491.46 352.60 L492.98 351.67 L494.51 350.73 L496.03 349.78 L497.55 348.83 L499.08 347.87 L500.60 346.90 L502.12 345.93 L503.65 344.95 L505.17 343.96 L506.69 342.97 L508.22 341.97 L509.74 340.96 L511.26 339.95 L512.78 338.93 L514.31 337.90 L515.83 336.86 L517.35 335.82 L518.88 334.77 L520.40 333.71 L521.92 332.65 L523.45 331.58 L524.97 330.50 L526.49 329.42 L528.02 328.32 L529.54 327.22 L531.06 326.12 L532.58 325.00 L534.11 323.88 L535.63 322.75 L537.15 321.61 L538.68 320.47 L540.20 319.32 L541.72 318.16 L543.25 316.99 L544.77 315.82 L546.29 314.63 L547.82 313.44 L549.34 312.25 L550.86 311.04 L552.38 309.83 L553.91 308.61 L555.43 307.38 L556.95 306.15 L558.48 304.90 L560.00 303.65" stroke-dasharray="8.2 5.8"/>
<path d="M104.60 457.07 L105.86 456.81 L107.11 456.55 L108.37 456.29 L109.62 456.03 L110.88 455.77 L112.13 455.51 L113.39 455.25 L114.64 454.99 L115.90 454.74 L117.16 454.48 L118.41 454.22 L119.67 453.97 L120.92 453.72 L122.18 453.46 L123.43 453.21 L124.69 452.96 L125.94 452.70 L127.20 452.45 L128.45 452.20 L129.71 451.95 L130.97 451.70 L132.22 451.44 L133.48 451.19 L134.73 450.94 L135.99 450.69 L137.24 450.44 L138.50 450.19 L139.75 449.94 L141.01 449.69 L142.27 449.44 L143.52 449.19 L144.78 448.94 L146.03 448.69 L147.29 448.44 L148.54 448.19 L149.80 447.94 L151.05 447.69 L152.31 447.44 L153.57 447.19 L154.82 446.94 L156.08 446.69 L157.33 446.44 L158.59 446.19 L159.84 445.93 L161.10 445.68 L162.35 445.43 L163.61 445.17 L164.86 444.92 L166.12 444.66 L167.38 444.41 L168.63 444.15 L169.89 443.90 L171.14 443.64 L172.40 443.38 L173.65 443.12 L174.91 442.86 L176.16 442.60 L177.42 442.34 L178.68 442.08 L179.93 441.82 L181.19 441.55 L182.44 441.29 L183.70 441.02 L184.95 440.76 L186.21 440.49 L187.46 440.22 L188.72 439.95 L189.98 439.68 L191.23 439.41 L192.49 439.14 L193.74 438.86 L195.00 438.59 L196.25 438.31 L197.51 438.04 L198.76 437.76 L200.02 437.48 L201.27 437.19 L202.53 436.91 L203.79 436.63 L205.04 436.34 L206.30 436.05 L207.55 435.77 L208.81 435.47 L210.06 435.18 L211.32 434.89 L212.57 434.59 L213.83 434.30 L215.09 434.00 L216.34 433.70 L217.60 433.40 L218.85 433.09 L220.11 432.79 L221.36 432.48 L222.62 432.17 L223.87 431.86 L225.13 431.55 L226.39 431.23 L227.64 430.92 L228.90 430.60 L230.15 430.28 L231.41 429.95 L232.66 429.63 L233.92 429.30 L235.17 428.97 L236.43 428.64 L237.68 428.31 L238.94 427.97 L240.20 427.63 L241.45 427.29 L242.71 426.95 L243.96 426.60 L245.22 426.26 L246.47 425.91 L247.73 425.55 L248.98 425.20 L250.24 424.84 L251.50 424.48 L252.75 424.12 L254.01 423.75 L255.26 423.38 L256.52 423.01 L257.77 422.64 L259.03 422.27 L260.28 421.89 L261.54 421.51 L262.80 421.12 L264.05 420.73 L265.31 420.34 L266.56 419.95 L267.82 419.56 L269.07 419.16 L270.33 418.76 L271.58 418.35 L272.84 417.94 L274.09 417.53 L275.35 417.12 L276.61 416.70 L277.86 416.28 L279.12 415.86 L280.37 415.43 L281.63 415.00 L282.88 414.57 L284.14 414.13 L285.39 413.69 L286.65 413.25 L287.91 412.81 L289.16 412.36 L290.42 411.91 L291.67 411.45 L292.93 410.99 L294.18 410.53 L295.44 410.07 L296.69 409.60 L297.95 409.13 L299.21 408.65 L300.46 408.18 L301.72 407.70 L302.97 407.22 L304.23 406.73 L305.48 406.24 L306.74 405.75 L307.99 405.25 L309.25 404.76 L310.51 404.26 L311.76 403.75 L313.02 403.24 L314.27 402.74 L315.53 402.22 L316.78 401.71 L318.04 401.19 L319.29 400.67 L320.55 400.14 L321.80 399.62 L323.06 399.09 L324.32 398.55 L325.57 398.02 L326.83 397.48 L328.08 396.94 L329.34 396.40 L330.59 395.85 L331.85 395.30 L333.10 394.75 L334.36 394.19 L335.62 393.64 L336.87 393.07 L338.13 392.51 L339.38 391.95 L340.64 391.38 L341.89 390.81 L343.15 390.23 L344.40 389.66 L345.66 389.08 L346.92 388.50 L348.17 387.91 L349.43 387.32 L350.68 386.73 L351.94 386.14 L353.19 385.55 L354.45 384.95 L355.70 384.35 L356.96 383.75 L358.21 383.14 L359.47 382.54 L360.73 381.93 L361.98 381.32 L363.24 380.70 L364.49 380.08 L365.75 379.46 L367.00 378.84 L368.26 378.22 L369.51 377.59 L370.77 376.96 L372.03 376.33 L373.28 375.69 L374.54 375.06 L375.79 374.42 L377.05 373.78 L378.30 373.13 L379.56 372.49 L380.81 371.84 L382.07 371.19 L383.33 370.54 L384.58 369.88 L385.84 369.22 L387.09 368.56 L388.35 367.90 L389.60 367.23 L390.86 366.57 L392.11 365.89 L393.37 365.22 L394.62 364.54 L395.88 363.86 L397.14 363.18 L398.39 362.49 L399.65 361.80 L400.90 361.11 L402.16 360.41 L403.41 359.71 L404.67 359.01 L405.92 358.30 L407.18 357.59 L408.44 356.87 L409.69 356.15 L410.95 355.43 L412.20 354.70 L413.46 353.97 L414.71 353.24 L415.97 352.50 L417.22 351.76 L418.48 351.01 L419.74 350.26 L420.99 349.50 L422.25 348.74 L423.50 347.98 L424.76 347.21 L426.01 346.44 L427.27 345.66 L428.52 344.88 L429.78 344.09 L431.03 343.30 L432.29 342.50 L433.55 341.69 L434.80 340.89 L436.06 340.07 L437.31 339.26 L438.57 338.43 L439.82 337.60 L441.08 336.77 L442.33 335.93 L443.59 335.08 L444.85 334.23 L446.10 333.38 L447.36 332.51 L448.61 331.65 L449.87 330.77 L451.12 329.89 L452.38 329.01 L453.63 328.11 L454.89 327.22 L456.15 326.31 L457.40 325.40 L458.66 324.48 L459.91 323.56 L461.17 322.63 L462.42 321.69 L463.68 320.75 L464.93 319.80 L466.19 318.85 L467.44 317.88 L468.70 316.91 L469.96 315.94 L471.21 314.95 L472.47 313.96 L473.72 312.97 L474.98 311.96 L476.23 310.95 L477.49 309.93 L478.74 308.90 L480.00 307.87" stroke-dasharray="20 6.3"/>
<path d="M104.60 453.45 L105.82 453.17 L107.04 452.88 L108.27 452.60 L109.49 452.31 L110.71 452.02 L111.93 451.73 L113.15 451.44 L114.38 451.15 L115.60 450.85 L116.82 450.56 L118.04 450.26 L119.26 449.96 L120.49 449.67 L121.71 449.36 L122.93 449.06 L124.15 448.76 L125.38 448.45 L126.60 448.15 L127.82 447.84 L129.04 447.53 L130.26 447.22 L131.49 446.91 L132.71 446.60 L133.93 446.28 L135.15 445.97 L136.37 445.65 L137.60 445.33 L138.82 445.01 L140.04 444.69 L141.26 444.37 L142.48 444.05 L143.71 443.72 L144.93 443.39 L146.15 443.07 L147.37 442.74 L148.59 442.41 L149.82 442.08 L151.04 441.74 L152.26 441.41 L153.48 441.07 L154.71 440.74 L155.93 440.40 L157.15 440.06 L158.37 439.72 L159.59 439.37 L160.82 439.03 L162.04 438.69 L163.26 438.34 L164.48 437.99 L165.70 437.64 L166.93 437.29 L168.15 436.94 L169.37 436.59 L170.59 436.23 L171.81 435.88 L173.04 435.52 L174.26 435.16 L175.48 434.80 L176.70 434.44 L177.92 434.08 L179.15 433.71 L180.37 433.35 L181.59 432.98 L182.81 432.61 L184.03 432.24 L185.26 431.87 L186.48 431.50 L187.70 431.13 L188.92 430.75 L190.15 430.38 L191.37 430.00 L192.59 429.62 L193.81 429.24 L195.03 428.86 L196.26 428.48 L197.48 428.10 L198.70 427.71 L199.92 427.32 L201.14 426.94 L202.37 426.55 L203.59 426.16 L204.81 425.76 L206.03 425.37 L207.25 424.98 L208.48 424.58 L209.70 424.18 L210.92 423.79 L212.14 423.39 L213.36 422.98 L214.59 422.58 L215.81 422.18 L217.03 421.77 L218.25 421.37 L219.47 420.96 L220.70 420.55 L221.92 420.14 L223.14 419.73 L224.36 419.31 L225.59 418.90 L226.81 418.48 L228.03 418.07 L229.25 417.65 L230.47 417.23 L231.70 416.81 L232.92 416.39 L234.14 415.96 L235.36 415.54 L236.58 415.11 L237.81 414.68 L239.03 414.25 L240.25 413.82 L241.47 413.39 L242.69 412.96 L243.92 412.52 L245.14 412.09 L246.36 411.65 L247.58 411.21 L248.80 410.77 L250.03 410.33 L251.25 409.89 L252.47 409.45 L253.69 409.00 L254.92 408.56 L256.14 408.11 L257.36 407.66 L258.58 407.21 L259.80 406.76 L261.03 406.31 L262.25 405.85 L263.47 405.40 L264.69 404.94 L265.91 404.48 L267.14 404.02 L268.36 403.56 L269.58 403.10 L270.80 402.64 L272.02 402.17 L273.25 401.71 L274.47 401.24 L275.69 400.77 L276.91 400.30 L278.13 399.83 L279.36 399.36 L280.58 398.88 L281.80 398.41 L283.02 397.93 L284.24 397.45 L285.47 396.97 L286.69 396.49 L287.91 396.01 L289.13 395.53 L290.36 395.04 L291.58 394.56 L292.80 394.07 L294.02 393.58 L295.24 393.09 L296.47 392.60 L297.69 392.11 L298.91 391.62 L300.13 391.12 L301.35 390.62 L302.58 390.13 L303.80 389.63 L305.02 389.13 L306.24 388.63 L307.46 388.12 L308.69 387.62 L309.91 387.11 L311.13 386.61 L312.35 386.10 L313.57 385.59 L314.80 385.08 L316.02 384.57 L317.24 384.05 L318.46 383.54 L319.68 383.02 L320.91 382.51 L322.13 381.99 L323.35 381.47 L324.57 380.95 L325.80 380.43 L327.02 379.90 L328.24 379.38 L329.46 378.85 L330.68 378.32 L331.91 377.79 L333.13 377.26 L334.35 376.73 L335.57 376.20 L336.79 375.67 L338.02 375.13 L339.24 374.59 L340.46 374.06 L341.68 373.52 L342.90 372.98 L344.13 372.43 L345.35 371.89 L346.57 371.35 L347.79 370.80 L349.01 370.25 L350.24 369.71 L351.46 369.16 L352.68 368.61 L353.90 368.05 L355.13 367.50 L356.35 366.95 L357.57 366.39 L358.79 365.83 L360.01 365.28 L361.24 364.72 L362.46 364.16 L363.68 363.60 L364.90 363.04 L366.12 362.47 L367.35 361.91 L368.57 361.34 L369.79 360.78 L371.01 360.21 L372.23 359.64 L373.46 359.07 L374.68 358.50 L375.90 357.93 L377.12 357.36 L378.34 356.78 L379.57 356.21 L380.79 355.63 L382.01 355.06 L383.23 354.48 L384.45 353.90 L385.68 353.32 L386.90 352.74 L388.12 352.16 L389.34 351.58 L390.57 351.00 L391.79 350.41 L393.01 349.83 L394.23 349.24 L395.45 348.66 L396.68 348.07 L397.90 347.48 L399.12 346.89 L400.34 346.30 L401.56 345.71 L402.79 345.12 L404.01 344.53 L405.23 343.94 L406.45 343.34 L407.67 342.75 L408.90 342.15 L410.12 341.56 L411.34 340.96 L412.56 340.36 L413.78 339.77 L415.01 339.17 L416.23 338.57 L417.45 337.97 L418.67 337.37 L419.89 336.77 L421.12 336.17 L422.34 335.56 L423.56 334.96 L424.78 334.36 L426.01 333.75 L427.23 333.15 L428.45 332.54 L429.67 331.94 L430.89 331.33 L432.12 330.72 L433.34 330.12 L434.56 329.51 L435.78 328.90 L437.00 328.29 L438.23 327.68 L439.45 327.07 L440.67 326.46 L441.89 325.85 L443.11 325.24 L444.34 324.63 L445.56 324.02 L446.78 323.40 L448.00 322.79 L449.22 322.18 L450.45 321.56 L451.67 320.95 L452.89 320.34 L454.11 319.72 L455.34 319.11 L456.56 318.49 L457.78 317.87 L459.00 317.26 L460.22 316.64 L461.45 316.03 L462.67 315.41 L463.89 314.79 L465.11 314.17 L466.33 313.56 L467.56 312.94 L468.78 312.32 L470.00 311.70" stroke-dasharray="8 2.6 1.2 2.6"/>
<path d="M104.60 453.22 L106.25 452.88 L107.90 452.54 L109.55 452.20 L111.20 451.86 L112.85 451.52 L114.50 451.19 L116.15 450.85 L117.80 450.51 L119.45 450.17 L121.10 449.84 L122.75 449.50 L124.40 449.16 L126.05 448.82 L127.70 448.48 L129.35 448.15 L131.00 447.81 L132.65 447.47 L134.30 447.12 L135.95 446.78 L137.60 446.44 L139.25 446.09 L140.90 445.74 L142.55 445.40 L144.20 445.05 L145.85 444.70 L147.50 444.34 L149.15 443.99 L150.80 443.63 L152.45 443.27 L154.11 442.91 L155.76 442.54 L157.41 442.17 L159.06 441.80 L160.71 441.43 L162.36 441.05 L164.01 440.67 L165.66 440.29 L167.31 439.91 L168.96 439.52 L170.61 439.12 L172.26 438.73 L173.91 438.33 L175.56 437.92 L177.21 437.51 L178.86 437.10 L180.51 436.68 L182.16 436.26 L183.81 435.84 L185.46 435.41 L187.11 434.97 L188.76 434.53 L190.41 434.09 L192.06 433.64 L193.71 433.18 L195.36 432.72 L197.01 432.25 L198.66 431.78 L200.31 431.30 L201.96 430.82 L203.61 430.33 L205.26 429.84 L206.91 429.34 L208.56 428.83 L210.21 428.32 L211.86 427.81 L213.51 427.29 L215.16 426.76 L216.81 426.23 L218.46 425.70 L220.11 425.16 L221.76 424.61 L223.41 424.07 L225.06 423.52 L226.71 422.96 L228.36 422.40 L230.01 421.84 L231.66 421.27 L233.31 420.70 L234.96 420.13 L236.61 419.56 L238.26 418.98 L239.91 418.40 L241.56 417.81 L243.21 417.23 L244.86 416.64 L246.51 416.04 L248.16 415.45 L249.81 414.86 L251.46 414.26 L253.12 413.66 L254.77 413.06 L256.42 412.45 L258.07 411.85 L259.72 411.24 L261.37 410.64 L263.02 410.03 L264.67 409.42 L266.32 408.81 L267.97 408.20 L269.62 407.59 L271.27 406.98 L272.92 406.36 L274.57 405.75 L276.22 405.14 L277.87 404.53 L279.52 403.92 L281.17 403.31 L282.82 402.69 L284.47 402.08 L286.12 401.47 L287.77 400.87 L289.42 400.26 L291.07 399.65 L292.72 399.05 L294.37 398.44 L296.02 397.84 L297.67 397.24 L299.32 396.64 L300.97 396.04 L302.62 395.45 L304.27 394.85 L305.92 394.26 L307.57 393.67 L309.22 393.09 L310.87 392.50 L312.52 391.92 L314.17 391.35 L315.82 390.77 L317.47 390.20 L319.12 389.63 L320.77 389.07 L322.42 388.50 L324.07 387.95 L325.72 387.39 L327.37 386.84 L329.02 386.30 L330.67 385.76 L332.32 385.22 L333.97 384.68 L335.62 384.16 L337.27 383.63 L338.92 383.11 L340.57 382.60 L342.22 382.09 L343.87 381.59 L345.52 381.09 L347.17 380.59 L348.82 380.11 L350.47 379.62 L352.13 379.15 L353.78 378.68 L355.43 378.22 L357.08 377.76 L358.73 377.31 L360.38 376.87 L362.03 376.43 L363.68 376.00 L365.33 375.58 L366.98 375.17 L368.63 374.76 L370.28 374.37 L371.93 373.98 L373.58 373.60 L375.23 373.24 L376.88 372.88 L378.53 372.53 L380.18 372.19 L381.83 371.86 L383.48 371.54 L385.13 371.23 L386.78 370.93 L388.43 370.65 L390.08 370.37 L391.73 370.11 L393.38 369.86 L395.03 369.62 L396.68 369.39 L398.33 369.18 L399.98 368.98 L401.63 368.79 L403.28 368.62 L404.93 368.46 L406.58 368.31 L408.23 368.17 L409.88 368.06 L411.53 367.95 L413.18 367.86 L414.83 367.79 L416.48 367.73 L418.13 367.68 L419.78 367.66 L421.43 367.64 L423.08 367.65 L424.73 367.67 L426.38 367.71 L428.03 367.76 L429.68 367.83 L431.33 367.92 L432.98 368.03 L434.63 368.15 L436.28 368.29 L437.93 368.46 L439.58 368.64 L441.23 368.83 L442.88 369.05 L444.53 369.29 L446.18 369.55 L447.83 369.82 L449.48 370.12 L451.14 370.44 L452.79 370.77 L454.44 371.13 L456.09 371.51 L457.74 371.91 L459.39 372.33 L461.04 372.77 L462.69 373.23 L464.34 373.72 L465.99 374.22 L467.64 374.74 L469.29 375.28 L470.94 375.84 L472.59 376.42 L474.24 377.02 L475.89 377.63 L477.54 378.27 L479.19 378.92 L480.84 379.60 L482.49 380.29 L484.14 380.99 L485.79 381.72 L487.44 382.46 L489.09 383.22 L490.74 384.00 L492.39 384.80 L494.04 385.61 L495.69 386.44 L497.34 387.28 L498.99 388.15 L500.64 389.02 L502.29 389.92 L503.94 390.82 L505.59 391.75 L507.24 392.69 L508.89 393.64 L510.54 394.61 L512.19 395.60 L513.84 396.60 L515.49 397.61 L517.14 398.64 L518.79 399.68 L520.44 400.74 L522.09 401.81 L523.74 402.89 L525.39 403.99 L527.04 405.10 L528.69 406.22 L530.34 407.36 L531.99 408.51 L533.64 409.67 L535.29 410.84 L536.94 412.03 L538.59 413.23 L540.24 414.44 L541.89 415.66 L543.54 416.89 L545.19 418.13 L546.84 419.39 L548.49 420.65 L550.15 421.93 L551.80 423.21 L553.45 424.51 L555.10 425.82 L556.75 427.13 L558.40 428.46 L560.05 429.79 L561.70 431.14 L563.35 432.49 L565.00 433.86 L566.65 435.23 L568.30 436.61 L569.95 438.00 L571.60 439.40 L573.25 440.80 L574.90 442.22 L576.55 443.64 L578.20 445.07 L579.85 446.50 L581.50 447.95 L583.15 449.40 L584.80 450.85 L586.45 452.32 L588.10 453.79 L589.75 455.26 L591.40 456.75 L593.05 458.24 L594.70 459.73 L596.35 461.23 L598.00 462.74" stroke-dasharray="16 2.6 1.2 2.6"/>
</g>
<g clip-path="url(#ct)">
<circle cx="133.70" cy="52.90" r="5.6" fill="none" stroke="#000" stroke-width="1.2"/>
<circle cx="162.70" cy="58.80" r="5.6" fill="none" stroke="#000" stroke-width="1.2"/>
<circle cx="191.70" cy="73.80" r="5.6" fill="none" stroke="#000" stroke-width="1.2"/>
<circle cx="220.70" cy="90.50" r="5.6" fill="none" stroke="#000" stroke-width="1.2"/>
<circle cx="249.70" cy="110.30" r="5.6" fill="none" stroke="#000" stroke-width="1.2"/>
<path d="M133.70 50.60L139.50 60.65L127.90 60.65Z" fill="none" stroke="#000" stroke-width="1.2" stroke-linejoin="miter"/>
<path d="M162.70 55.80L168.50 65.85L156.90 65.85Z" fill="none" stroke="#000" stroke-width="1.2" stroke-linejoin="miter"/>
<path d="M191.70 69.30L197.50 79.35L185.90 79.35Z" fill="none" stroke="#000" stroke-width="1.2" stroke-linejoin="miter"/>
<path d="M220.70 83.10L226.50 93.15L214.90 93.15Z" fill="none" stroke="#000" stroke-width="1.2" stroke-linejoin="miter"/>
<path d="M249.70 100.30L255.50 110.35L243.90 110.35Z" fill="none" stroke="#000" stroke-width="1.2" stroke-linejoin="miter"/>
<path d="M278.70 117.30L284.50 127.35L272.90 127.35Z" fill="none" stroke="#000" stroke-width="1.2" stroke-linejoin="miter"/>
<path d="M307.70 136.30L313.50 146.35L301.90 146.35Z" fill="none" stroke="#000" stroke-width="1.2" stroke-linejoin="miter"/>
<path d="M336.70 157.10L342.50 167.15L330.90 167.15Z" fill="none" stroke="#000" stroke-width="1.2" stroke-linejoin="miter"/>
<rect x="128.90" y="61.70" width="9.6" height="9.6"/>
<rect x="157.90" y="65.40" width="9.6" height="9.6"/>
<rect x="186.90" y="74.70" width="9.6" height="9.6"/>
<rect x="215.90" y="86.40" width="9.6" height="9.6"/>
<rect x="244.90" y="99.50" width="9.6" height="9.6"/>
<rect x="273.90" y="113.90" width="9.6" height="9.6"/>
<rect x="302.90" y="125.90" width="9.6" height="9.6"/>
<rect x="331.90" y="141.40" width="9.6" height="9.6"/>
<rect x="360.90" y="158.50" width="9.6" height="9.6"/>
<rect x="389.90" y="177.00" width="9.6" height="9.6"/>
<rect x="418.90" y="196.40" width="9.6" height="9.6"/>
<rect x="447.90" y="217.80" width="9.6" height="9.6"/>
<circle cx="133.70" cy="75.70" r="5.8"/>
<circle cx="162.70" cy="78.20" r="5.8"/>
<circle cx="191.70" cy="85.80" r="5.8"/>
<circle cx="220.70" cy="94.10" r="5.8"/>
<circle cx="249.70" cy="104.80" r="5.8"/>
<circle cx="278.70" cy="114.00" r="5.8"/>
<circle cx="307.70" cy="125.50" r="5.8"/>
<circle cx="336.70" cy="136.80" r="5.8"/>
<circle cx="365.70" cy="150.10" r="5.8"/>
<circle cx="394.70" cy="163.40" r="5.8"/>
<circle cx="423.70" cy="177.50" r="5.8"/>
<circle cx="452.70" cy="192.20" r="5.8"/>
<circle cx="481.70" cy="206.70" r="5.8"/>
<circle cx="510.70" cy="223.70" r="5.8"/>
<circle cx="539.70" cy="244.10" r="5.8"/>
<circle cx="568.70" cy="265.90" r="5.8"/>
</g>
<g clip-path="url(#cb)">
<circle cx="133.70" cy="491.60" r="5.6" fill="none" stroke="#000" stroke-width="1.2"/>
<circle cx="162.70" cy="443.00" r="5.6" fill="none" stroke="#000" stroke-width="1.2"/>
<circle cx="191.70" cy="417.40" r="5.6" fill="none" stroke="#000" stroke-width="1.2"/>
<circle cx="220.70" cy="402.80" r="5.6" fill="none" stroke="#000" stroke-width="1.2"/>
<circle cx="249.70" cy="388.70" r="5.6" fill="none" stroke="#000" stroke-width="1.2"/>
<path d="M133.70 479.80L139.50 489.85L127.90 489.85Z" fill="none" stroke="#000" stroke-width="1.2" stroke-linejoin="miter"/>
<path d="M162.70 444.60L168.50 454.65L156.90 454.65Z" fill="none" stroke="#000" stroke-width="1.2" stroke-linejoin="miter"/>
<path d="M191.70 422.80L197.50 432.85L185.90 432.85Z" fill="none" stroke="#000" stroke-width="1.2" stroke-linejoin="miter"/>
<path d="M220.70 404.30L226.50 414.35L214.90 414.35Z" fill="none" stroke="#000" stroke-width="1.2" stroke-linejoin="miter"/>
<path d="M249.70 393.80L255.50 403.85L243.90 403.85Z" fill="none" stroke="#000" stroke-width="1.2" stroke-linejoin="miter"/>
<path d="M278.70 379.50L284.50 389.55L272.90 389.55Z" fill="none" stroke="#000" stroke-width="1.2" stroke-linejoin="miter"/>
<path d="M307.70 377.80L313.50 387.85L301.90 387.85Z" fill="none" stroke="#000" stroke-width="1.2" stroke-linejoin="miter"/>
<path d="M336.70 370.30L342.50 380.35L330.90 380.35Z" fill="none" stroke="#000" stroke-width="1.2" stroke-linejoin="miter"/>
<rect x="128.90" y="483.00" width="9.6" height="9.6"/>
<rect x="157.90" y="448.80" width="9.6" height="9.6"/>
<rect x="186.90" y="433.20" width="9.6" height="9.6"/>
<rect x="215.90" y="424.00" width="9.6" height="9.6"/>
<rect x="244.90" y="415.60" width="9.6" height="9.6"/>
<rect x="273.90" y="401.70" width="9.6" height="9.6"/>
<rect x="302.90" y="386.20" width="9.6" height="9.6"/>
<rect x="331.90" y="373.20" width="9.6" height="9.6"/>
<rect x="360.90" y="367.60" width="9.6" height="9.6"/>
<rect x="389.90" y="362.20" width="9.6" height="9.6"/>
<rect x="418.90" y="353.80" width="9.6" height="9.6"/>
<rect x="447.90" y="350.20" width="9.6" height="9.6"/>
<circle cx="133.70" cy="485.30" r="5.8"/>
<circle cx="162.70" cy="459.80" r="5.8"/>
<circle cx="191.70" cy="444.20" r="5.8"/>
<circle cx="220.70" cy="437.50" r="5.8"/>
<circle cx="249.70" cy="432.00" r="5.8"/>
<circle cx="278.70" cy="422.80" r="5.8"/>
<circle cx="307.70" cy="414.20" r="5.8"/>
<circle cx="336.70" cy="410.30" r="5.8"/>
<circle cx="365.70" cy="406.00" r="5.8"/>
<circle cx="394.70" cy="396.40" r="5.8"/>
<circle cx="423.70" cy="389.00" r="5.8"/>
<circle cx="452.70" cy="377.60" r="5.8"/>
<circle cx="481.70" cy="357.70" r="5.8"/>
<circle cx="510.70" cy="343.50" r="5.8"/>
<circle cx="539.70" cy="349.20" r="5.8"/>
<circle cx="568.70" cy="354.90" r="5.8"/>
</g>
<path d="M127.36 9.63v6.70 M127.36 320.20v-6.70 M127.36 320.20v7.20 M127.36 503.10v-7.20 M146.78 9.63v6.70 M146.78 320.20v-6.70 M146.78 320.20v7.20 M146.78 503.10v-7.20 M163.60 9.63v6.70 M163.60 320.20v-6.70 M163.60 320.20v7.20 M163.60 503.10v-7.20 M178.43 9.63v6.70 M178.43 320.20v-6.70 M178.43 320.20v7.20 M178.43 503.10v-7.20 M191.70 9.63v13.60 M191.70 320.20v-13.60 M191.70 320.20v15.40 M191.70 503.10v-15.40 M279.00 9.63v6.70 M279.00 320.20v-6.70 M279.00 320.20v7.20 M279.00 503.10v-7.20 M330.07 9.63v6.70 M330.07 320.20v-6.70 M330.07 320.20v7.20 M330.07 503.10v-7.20 M366.30 9.63v6.70 M366.30 320.20v-6.70 M366.30 320.20v7.20 M366.30 503.10v-7.20 M394.40 9.63v6.70 M394.40 320.20v-6.70 M394.40 320.20v7.20 M394.40 503.10v-7.20 M417.36 9.63v6.70 M417.36 320.20v-6.70 M417.36 320.20v7.20 M417.36 503.10v-7.20 M436.78 9.63v6.70 M436.78 320.20v-6.70 M436.78 320.20v7.20 M436.78 503.10v-7.20 M453.60 9.63v6.70 M453.60 320.20v-6.70 M453.60 320.20v7.20 M453.60 503.10v-7.20 M468.43 9.63v6.70 M468.43 320.20v-6.70 M468.43 320.20v7.20 M468.43 503.10v-7.20 M481.70 9.63v13.60 M481.70 320.20v-13.60 M481.70 320.20v15.40 M481.70 503.10v-15.40 M569.00 9.63v6.70 M569.00 320.20v-6.70 M569.00 320.20v7.20 M569.00 503.10v-7.20 M104.60 301.50h6.70 M598.00 301.50h-6.70 M104.60 290.56h6.70 M598.00 290.56h-6.70 M104.60 282.80h6.70 M598.00 282.80h-6.70 M104.60 276.78h6.70 M598.00 276.78h-6.70 M104.60 271.87h6.70 M598.00 271.87h-6.70 M104.60 267.71h6.70 M598.00 267.71h-6.70 M104.60 264.11h6.70 M598.00 264.11h-6.70 M104.60 260.93h6.70 M598.00 260.93h-6.70 M104.60 258.09h13.60 M598.00 258.09h-13.60 M104.60 239.39h6.70 M598.00 239.39h-6.70 M104.60 228.45h6.70 M598.00 228.45h-6.70 M104.60 220.69h6.70 M598.00 220.69h-6.70 M104.60 214.67h6.70 M598.00 214.67h-6.70 M104.60 209.75h6.70 M598.00 209.75h-6.70 M104.60 205.59h6.70 M598.00 205.59h-6.70 M104.60 201.99h6.70 M598.00 201.99h-6.70 M104.60 198.81h6.70 M598.00 198.81h-6.70 M104.60 195.97h13.60 M598.00 195.97h-13.60 M104.60 177.27h6.70 M598.00 177.27h-6.70 M104.60 166.34h6.70 M598.00 166.34h-6.70 M104.60 158.58h6.70 M598.00 158.58h-6.70 M104.60 152.56h6.70 M598.00 152.56h-6.70 M104.60 147.64h6.70 M598.00 147.64h-6.70 M104.60 143.48h6.70 M598.00 143.48h-6.70 M104.60 139.88h6.70 M598.00 139.88h-6.70 M104.60 136.70h6.70 M598.00 136.70h-6.70 M104.60 133.86h13.60 M598.00 133.86h-13.60 M104.60 115.16h6.70 M598.00 115.16h-6.70 M104.60 104.22h6.70 M598.00 104.22h-6.70 M104.60 96.46h6.70 M598.00 96.46h-6.70 M104.60 90.44h6.70 M598.00 90.44h-6.70 M104.60 85.52h6.70 M598.00 85.52h-6.70 M104.60 81.37h6.70 M598.00 81.37h-6.70 M104.60 77.76h6.70 M598.00 77.76h-6.70 M104.60 74.59h6.70 M598.00 74.59h-6.70 M104.60 71.74h13.60 M598.00 71.74h-13.60 M104.60 53.05h6.70 M598.00 53.05h-6.70 M104.60 42.11h6.70 M598.00 42.11h-6.70 M104.60 34.35h6.70 M598.00 34.35h-6.70 M104.60 28.33h6.70 M598.00 28.33h-6.70 M104.60 23.41h6.70 M598.00 23.41h-6.70 M104.60 19.25h6.70 M598.00 19.25h-6.70 M104.60 15.65h6.70 M598.00 15.65h-6.70 M104.60 12.47h6.70 M598.00 12.47h-6.70 M104.60 489.03h7.20 M598.00 489.03h-7.20 M104.60 474.96h7.20 M598.00 474.96h-7.20 M104.60 460.89h7.20 M598.00 460.89h-7.20 M104.60 446.82h7.20 M598.00 446.82h-7.20 M104.60 432.75h15.40 M598.00 432.75h-15.40 M104.60 418.68h7.20 M598.00 418.68h-7.20 M104.60 404.62h7.20 M598.00 404.62h-7.20 M104.60 390.55h7.20 M598.00 390.55h-7.20 M104.60 376.48h7.20 M598.00 376.48h-7.20 M104.60 362.41h15.40 M598.00 362.41h-15.40 M104.60 348.34h7.20 M598.00 348.34h-7.20 M104.60 334.27h7.20 M598.00 334.27h-7.20" stroke="#000" stroke-width="1.3" fill="none"/>
<rect x="104.6" y="9.63" width="493.40" height="493.47" fill="none" stroke="#000" stroke-width="1.5"/>
<path d="M104.6 320.2H598.0" stroke="#000" stroke-width="1.5"/>
<g font-family="'Liberation Serif', serif" fill="#000">
<text x="42.5" y="17.03" font-size="22" textLength="23.5" lengthAdjust="spacingAndGlyphs">10</text>
<path d="M69.1 6.93H75.7" stroke="#000" stroke-width="1.3"/>
<text x="78.6" y="10.53" font-size="12.6" stroke="#000" stroke-width="0.4" letter-spacing="0.9">11</text>
<text x="42.5" y="79.14" font-size="22" textLength="23.5" lengthAdjust="spacingAndGlyphs">10</text>
<path d="M69.1 69.04H75.7" stroke="#000" stroke-width="1.3"/>
<text x="78.6" y="72.64" font-size="12.6" stroke="#000" stroke-width="0.4" letter-spacing="0.9">12</text>
<text x="42.5" y="141.26" font-size="22" textLength="23.5" lengthAdjust="spacingAndGlyphs">10</text>
<path d="M69.1 131.16H75.7" stroke="#000" stroke-width="1.3"/>
<text x="78.6" y="134.76" font-size="12.6" stroke="#000" stroke-width="0.4" letter-spacing="0.9">13</text>
<text x="42.5" y="203.37" font-size="22" textLength="23.5" lengthAdjust="spacingAndGlyphs">10</text>
<path d="M69.1 193.27H75.7" stroke="#000" stroke-width="1.3"/>
<text x="78.6" y="196.87" font-size="12.6" stroke="#000" stroke-width="0.4" letter-spacing="0.9">14</text>
<text x="42.5" y="265.49" font-size="22" textLength="23.5" lengthAdjust="spacingAndGlyphs">10</text>
<path d="M69.1 255.39H75.7" stroke="#000" stroke-width="1.3"/>
<text x="78.6" y="258.99" font-size="12.6" stroke="#000" stroke-width="0.4" letter-spacing="0.9">15</text>
<text x="42.5" y="327.60" font-size="22" textLength="23.5" lengthAdjust="spacingAndGlyphs">10</text>
<path d="M69.1 317.50H75.7" stroke="#000" stroke-width="1.3"/>
<text x="78.6" y="321.10" font-size="12.6" stroke="#000" stroke-width="0.4" letter-spacing="0.9">16</text>
<text x="55.7" y="370.31" font-size="23" textLength="12.9" lengthAdjust="spacingAndGlyphs">0</text>
<text x="70.4" y="370.31" font-size="23">.</text>
<text x="76.9" y="370.31" font-size="23" textLength="12.9" lengthAdjust="spacingAndGlyphs">5</text>
<text x="77.6" y="440.65" font-size="23" textLength="12.9" lengthAdjust="spacingAndGlyphs">0</text>
<text x="55.7" y="511.00" font-size="23" textLength="12.9" lengthAdjust="spacingAndGlyphs">0</text>
<text x="70.4" y="511.00" font-size="23">.</text>
<text x="76.9" y="511.00" font-size="23" textLength="12.9" lengthAdjust="spacingAndGlyphs">5</text>
<path d="M38.9 504.70H52.2" stroke="#000" stroke-width="1.2"/>
<text x="170.6" y="532.8" font-size="24.5" textLength="25.3" lengthAdjust="spacingAndGlyphs">10</text>
<text x="198.9" y="524.9" font-size="14.0" textLength="15.0" lengthAdjust="spacingAndGlyphs" stroke="#000" stroke-width="0.4">12</text>
<text x="460.6" y="532.8" font-size="24.5" textLength="25.3" lengthAdjust="spacingAndGlyphs">10</text>
<text x="488.9" y="524.9" font-size="14.0" textLength="15.0" lengthAdjust="spacingAndGlyphs" stroke="#000" stroke-width="0.4">13</text>
<text x="296.0" y="556.7" font-size="23.6" textLength="16.8" lengthAdjust="spacingAndGlyphs">M</text>
<path d="M332.2 538.9H328.2V561.3H332.2M398.6 538.9H402.6V561.3H398.6M366.6 561.6L379.2 538.3" fill="none" stroke="#000" stroke-width="1.35"/>
<text x="335.2" y="556.8" font-size="23.6" textLength="16.8" lengthAdjust="spacingAndGlyphs">M</text>
<circle cx="358.8" cy="559.4" r="4.1" fill="none" stroke="#000" stroke-width="1.3"/><circle cx="358.8" cy="559.4" r="1.2"/>
<text x="382.7" y="557.0" font-size="23.5" textLength="12.6" lengthAdjust="spacingAndGlyphs">h</text>
<text transform="translate(19.2 188.5) rotate(-90)" font-size="22.8">f</text>
<text transform="translate(19.0 177.9) rotate(-90)" font-size="27">(</text>
<text transform="translate(19.2 169.3) rotate(-90)" font-size="22.8" textLength="16.4" lengthAdjust="spacingAndGlyphs">M</text>
<text transform="translate(19.0 151.1) rotate(-90)" font-size="27">)</text>
<text transform="translate(19.2 465.0) rotate(-90)" font-size="22.5" textLength="13.6" lengthAdjust="spacingAndGlyphs">&#916;</text>
<text transform="translate(19.2 450.9) rotate(-90)" font-size="22.5">f</text>
<text transform="translate(19.2 425.1) rotate(-90)" font-size="22.5">f</text>
<path d="M23.6 439.7L0.4 427.0" stroke="#000" stroke-width="1.3"/>
<path d="M133.5 227.1H162.6" stroke="#000" stroke-width="1.2"/>
<path d="M133.5 258.4H162.6" stroke="#000" stroke-width="1.2" stroke-dasharray="8.2 5.8"/>
<text x="171.5" y="227.8" font-size="22" textLength="77" lengthAdjust="spacingAndGlyphs">Jenkins</text>
<text x="258.5" y="227.8" font-size="22" textLength="20.5" lengthAdjust="spacingAndGlyphs">et</text>
<text x="288.0" y="227.8" font-size="22" textLength="25" lengthAdjust="spacingAndGlyphs">al.</text>
<text x="322.5" y="227.8" font-size="22" textLength="23.5" lengthAdjust="spacingAndGlyphs">01</text>
<text x="172.0" y="258.8" font-size="22" textLength="59.5" lengthAdjust="spacingAndGlyphs">Sheth</text>
<text x="240.5" y="258.8" font-size="22" textLength="16" lengthAdjust="spacingAndGlyphs">&amp;</text>
<text x="266.5" y="258.8" font-size="22" textLength="78" lengthAdjust="spacingAndGlyphs">Tormen</text>
<text x="354.0" y="258.8" font-size="22" textLength="23" lengthAdjust="spacingAndGlyphs">99</text>
</g>
<circle cx="467.40" cy="66.00" r="5.8"/>
<g font-family="'Liberation Serif', serif" fill="#000">
<text x="482.6" y="72.0" font-size="25" textLength="12.2" lengthAdjust="spacingAndGlyphs">z</text>
<text x="510.9" y="73.0" font-size="25" textLength="17.4" lengthAdjust="spacingAndGlyphs">=</text>
<text x="543.0" y="72.0" font-size="25" textLength="15.6" lengthAdjust="spacingAndGlyphs">3</text>
</g>
<rect x="462.60" y="92.20" width="9.6" height="9.6"/>
<g font-family="'Liberation Serif', serif" fill="#000">
<text x="482.6" y="103.0" font-size="25" textLength="12.2" lengthAdjust="spacingAndGlyphs">z</text>
<text x="510.9" y="104.0" font-size="25" textLength="17.4" lengthAdjust="spacingAndGlyphs">=</text>
<text x="543.0" y="103.0" font-size="25" textLength="15.6" lengthAdjust="spacingAndGlyphs">4</text>
</g>
<path d="M467.40 121.30L473.20 131.35L461.60 131.35Z" fill="none" stroke="#000" stroke-width="1.2" stroke-linejoin="miter"/>
<g font-family="'Liberation Serif', serif" fill="#000">
<text x="482.6" y="134.0" font-size="25" textLength="12.2" lengthAdjust="spacingAndGlyphs">z</text>
<text x="510.9" y="135.0" font-size="25" textLength="17.4" lengthAdjust="spacingAndGlyphs">=</text>
<text x="543.0" y="134.0" font-size="25" textLength="15.6" lengthAdjust="spacingAndGlyphs">5</text>
</g>
<circle cx="467.40" cy="159.00" r="5.6" fill="none" stroke="#000" stroke-width="1.2"/>
<g font-family="'Liberation Serif', serif" fill="#000">
<text x="482.6" y="165.0" font-size="25" textLength="12.2" lengthAdjust="spacingAndGlyphs">z</text>
<text x="510.9" y="166.0" font-size="25" textLength="17.4" lengthAdjust="spacingAndGlyphs">=</text>
<text x="543.0" y="165.0" font-size="25" textLength="15.6" lengthAdjust="spacingAndGlyphs">6</text>
</g>
</svg>
</body></html>
